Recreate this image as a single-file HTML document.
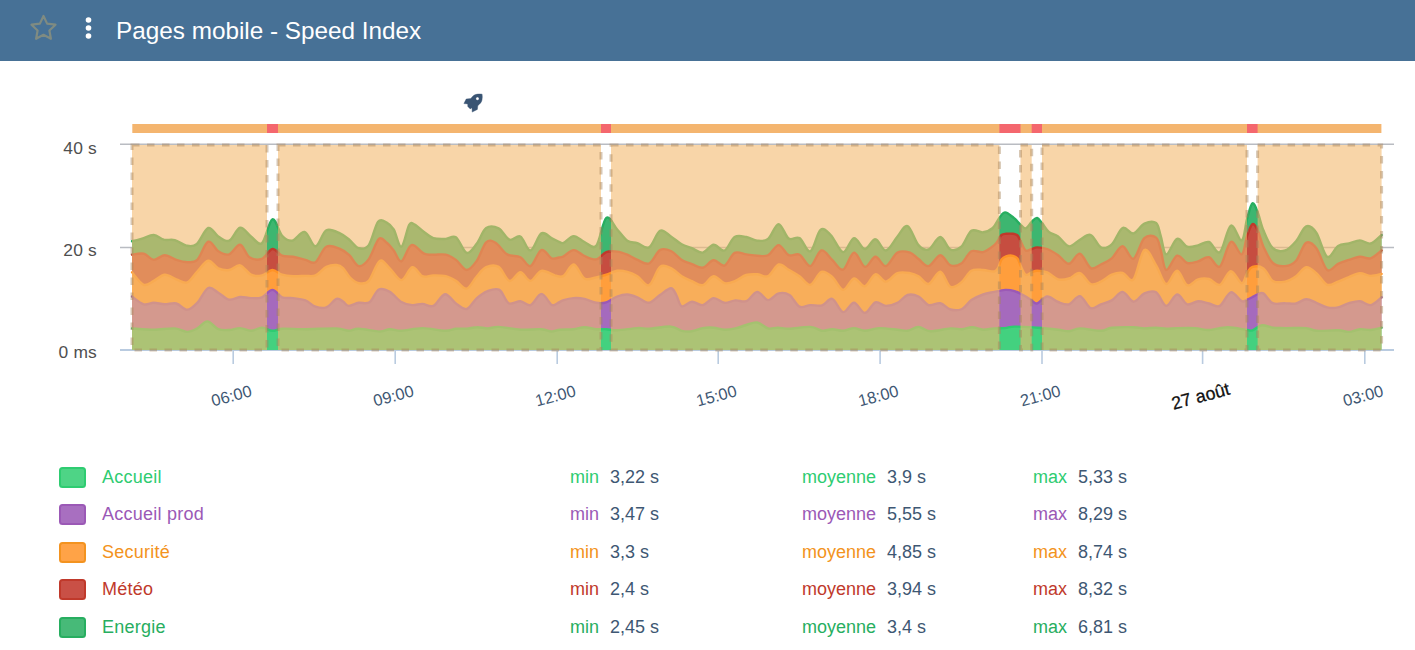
<!DOCTYPE html>
<html><head><meta charset="utf-8"><title>Pages mobile - Speed Index</title>
<style>
html,body{margin:0;padding:0;background:#fff;}
body{width:1415px;height:650px;overflow:hidden;position:relative;font-family:"Liberation Sans",sans-serif;}
#hdr{position:absolute;left:0;top:0;width:1415px;height:61px;background:#477196;}
#hdr .t{position:absolute;left:116px;top:15.5px;font-size:24.3px;line-height:30px;color:#fff;white-space:nowrap;}
svg text{font-family:"Liberation Sans",sans-serif;}
.row{position:absolute;left:0;width:1415px;height:20px;font-size:18px;line-height:20px;white-space:nowrap;}
.row span{position:absolute;top:0;}
.row .sw{left:59px;top:0;width:23px;height:17px;border:2px solid;border-radius:3.5px;}
.row .nm{left:102px;letter-spacing:0.25px;}
.row .v{color:#3e5773;}
</style></head><body>
<div id="hdr">
<svg width="120" height="61" style="position:absolute;left:0;top:0">
<path d="M43.5 16.0L47.1 23.6L55.5 24.7L49.4 30.5L50.9 38.8L43.5 34.8L36.1 38.8L37.6 30.5L31.5 24.7L39.9 23.6Z" fill="none" stroke="#7f8b82" stroke-width="2.2" stroke-linejoin="round"/>
<circle cx="88.500" cy="20" r="2.800" fill="#fff"/><circle cx="88.500" cy="28" r="2.800" fill="#fff"/><circle cx="88.500" cy="36" r="2.800" fill="#fff"/>
</svg>
<div class="t">Pages mobile - Speed Index</div>
</div>
<svg width="1415" height="589" viewBox="0 61 1415 589" style="position:absolute;left:0;top:61px">
<defs><clipPath id="pc"><rect x="130.5" y="140" width="1253" height="210"/></clipPath></defs>
<line x1="120" x2="1394" y1="144.2" y2="144.2" stroke="#b9bcc2" stroke-width="1.6"/>
<line x1="120" x2="1394" y1="247.5" y2="247.5" stroke="#b9bcc2" stroke-width="1.6"/>
<line x1="120" x2="1394" y1="350" y2="350" stroke="#b9cbe0" stroke-width="2"/>
<line x1="233.2" x2="233.2" y1="350" y2="364" stroke="#b9cbe0" stroke-width="1.6"/>
<line x1="395.2" x2="395.2" y1="350" y2="364" stroke="#b9cbe0" stroke-width="1.6"/>
<line x1="557.2" x2="557.2" y1="350" y2="364" stroke="#b9cbe0" stroke-width="1.6"/>
<line x1="718.2" x2="718.2" y1="350" y2="364" stroke="#b9cbe0" stroke-width="1.6"/>
<line x1="880.1" x2="880.1" y1="350" y2="364" stroke="#b9cbe0" stroke-width="1.6"/>
<line x1="1042.0" x2="1042.0" y1="350" y2="364" stroke="#b9cbe0" stroke-width="1.6"/>
<line x1="1202.6" x2="1202.6" y1="350" y2="364" stroke="#b9cbe0" stroke-width="1.6"/>
<line x1="1364.8" x2="1364.8" y1="350" y2="364" stroke="#b9cbe0" stroke-width="1.6"/>
<g clip-path="url(#pc)">
<path d="M132.0 328.4C135.6 328.6 146.7 329.7 153.8 329.7C160.9 329.7 169.2 328.0 174.8 328.4C180.4 328.8 183.4 331.9 187.2 331.9C190.9 331.9 193.9 330.1 197.3 328.4C200.7 326.6 203.9 321.3 207.4 321.4C210.9 321.5 214.7 327.8 218.3 329.2C221.9 330.6 225.6 330.2 229.2 330.0C232.8 329.8 236.5 328.0 240.1 328.1C243.7 328.2 247.4 330.9 251.0 330.8C254.6 330.7 258.3 327.7 261.9 327.7C265.5 327.7 269.0 330.6 272.4 330.8C275.8 331.0 276.6 329.0 282.1 328.7C287.6 328.4 296.3 329.2 305.4 329.2C314.5 329.1 329.3 328.1 336.5 328.4C343.7 328.7 344.9 330.8 348.6 330.8C352.3 330.9 353.5 328.6 358.7 328.7C363.9 328.8 374.5 331.4 379.7 331.5C384.9 331.6 386.2 329.3 389.8 329.2C393.4 329.1 396.0 331.0 401.4 330.8C406.8 330.6 415.1 328.1 422.4 328.1C429.7 328.1 439.4 330.7 445.0 330.8C450.6 330.9 452.3 329.1 455.9 328.7C459.5 328.3 463.2 328.9 466.7 328.7C470.2 328.4 473.4 327.2 476.9 327.2C480.4 327.1 484.1 328.4 487.7 328.4C491.3 328.3 493.2 326.7 498.6 326.9C504.1 327.1 513.3 329.3 520.4 329.7C527.5 330.1 536.2 328.9 541.4 329.2C546.6 329.5 548.4 331.4 551.5 331.5C554.6 331.6 556.3 330.1 560.0 329.7C563.7 329.3 569.6 329.6 573.7 329.2C577.8 328.8 580.8 327.2 584.5 327.2C588.2 327.2 592.6 328.9 596.2 329.2C599.8 329.5 602.8 329.0 606.3 329.2C609.8 329.4 612.0 330.5 617.2 330.3C622.4 330.1 632.1 328.4 637.4 328.1C642.7 327.8 643.5 328.9 649.1 328.7C654.7 328.4 665.5 326.2 670.9 326.6C676.3 327.0 678.2 330.0 681.7 330.8C685.2 331.6 688.4 331.6 691.9 331.2C695.4 330.8 699.1 328.7 702.7 328.1C706.3 327.5 710.0 327.4 713.6 327.7C717.2 328.0 720.9 329.6 724.5 329.7C728.1 329.8 731.8 329.2 735.4 328.4C739.0 327.6 742.7 326.0 746.3 325.0C749.9 324.0 753.6 321.9 757.2 322.5C760.8 323.1 764.6 327.5 768.1 328.4C771.6 329.3 774.5 327.6 778.0 327.7C781.5 327.8 784.0 328.8 789.4 328.7C794.8 328.6 804.9 326.5 810.4 326.9C815.9 327.2 818.5 330.4 822.1 330.8C825.7 331.2 828.7 329.2 832.2 329.2C835.7 329.2 839.5 331.0 843.1 330.8C846.7 330.6 850.4 328.1 854.0 328.1C857.6 328.1 860.8 330.8 864.9 330.8C869.0 330.8 873.5 328.3 878.9 328.1C884.3 327.9 892.7 329.2 897.5 329.7C902.3 330.1 904.1 331.3 907.6 330.8C911.1 330.3 914.7 326.8 918.5 326.9C922.3 327.0 924.9 330.9 930.2 331.2C935.5 331.4 945.1 328.7 950.4 328.4C955.7 328.1 958.5 329.4 962.1 329.2C965.7 329.0 968.7 327.1 972.2 327.2C975.7 327.3 979.5 329.5 983.1 329.7C986.7 329.9 990.3 328.7 994.0 328.4C997.7 328.1 1001.8 328.4 1005.2 328.1C1008.6 327.8 1009.2 326.7 1014.5 326.6C1019.8 326.5 1029.8 327.2 1037.1 327.7C1044.4 328.2 1052.8 329.1 1058.1 329.7C1063.4 330.3 1065.4 331.4 1069.0 331.2C1072.6 331.0 1074.6 328.5 1079.9 328.4C1085.2 328.3 1095.6 330.9 1100.9 330.8C1106.2 330.7 1106.4 328.3 1111.8 327.7C1117.2 327.1 1128.1 327.1 1133.5 327.2C1138.9 327.3 1140.6 328.3 1144.4 328.4C1148.2 328.5 1152.5 327.6 1156.1 327.7C1159.7 327.8 1162.7 328.6 1166.2 328.7C1169.7 328.8 1172.3 328.2 1177.1 328.1C1181.9 328.0 1189.7 327.8 1195.0 328.1C1200.3 328.4 1203.5 330.1 1209.0 330.0C1214.5 329.9 1221.4 327.2 1227.7 327.2C1234.0 327.2 1243.0 329.5 1247.1 330.0C1251.2 330.5 1250.0 331.1 1252.5 330.3C1255.0 329.5 1258.5 325.7 1261.9 325.3C1265.3 324.9 1268.9 327.2 1272.8 327.7C1276.7 328.2 1279.6 328.0 1285.2 328.1C1290.8 328.2 1301.0 327.7 1306.2 328.1C1311.4 328.6 1311.0 330.4 1316.3 330.8C1321.6 331.2 1332.6 330.1 1338.1 330.3C1343.5 330.5 1345.4 332.1 1349.0 331.9C1352.6 331.7 1356.3 329.5 1359.9 329.2C1363.5 328.9 1367.1 330.2 1370.7 330.0C1374.3 329.8 1379.8 328.1 1381.6 327.7L1381.6 350.0 L132.0 350.0 Z" fill="#43d17f" stroke="none"/>
<path d="M132.0 296.5C133.9 297.8 140.1 303.2 143.7 304.3C147.3 305.4 150.3 302.8 153.8 302.8C157.3 302.8 160.9 304.2 164.7 304.3C168.4 304.4 172.6 302.6 176.3 303.5C180.1 304.4 183.7 309.9 187.2 309.8C190.7 309.7 193.8 306.4 197.3 302.8C200.8 299.2 204.7 289.7 208.2 288.0C211.7 286.3 214.8 290.8 218.3 292.7C221.8 294.6 225.6 299.0 229.2 299.7C232.8 300.4 236.5 297.3 240.1 297.0C243.7 296.7 247.4 298.1 251.0 298.1C254.6 298.2 258.3 298.7 261.9 297.3C265.5 295.9 269.0 289.9 272.4 289.9C275.8 289.9 278.7 295.9 282.1 297.3C285.5 298.7 289.1 297.6 293.0 298.1C296.9 298.6 301.6 299.0 305.4 300.4C309.1 301.8 312.0 305.5 315.5 306.7C319.0 307.9 322.9 308.7 326.4 307.4C329.9 306.1 333.7 299.9 336.5 298.9C339.3 297.9 341.0 300.3 343.0 301.5C345.0 302.7 346.0 305.7 348.6 305.9C351.2 306.1 355.2 303.4 358.7 302.8C362.2 302.2 366.1 304.5 369.5 302.3C372.9 300.1 375.5 291.2 378.9 289.5C382.3 287.8 386.1 289.8 389.8 291.9C393.6 294.0 397.6 299.8 401.4 302.0C405.1 304.2 408.8 304.8 412.3 305.1C415.8 305.4 418.9 303.8 422.4 303.9C425.9 304.0 429.5 307.5 433.3 305.9C437.1 304.3 441.2 294.6 445.0 294.2C448.8 293.8 452.3 301.0 455.9 303.5C459.5 306.0 463.2 309.9 466.7 309.0C470.2 308.1 473.4 301.1 476.9 298.1C480.4 295.1 483.9 292.5 487.7 291.1C491.4 289.7 495.9 287.9 499.4 289.9C502.9 291.9 505.2 301.3 508.7 303.2C512.2 305.1 516.8 300.9 520.4 301.2C524.0 301.5 527.0 306.3 530.5 305.1C534.0 303.9 537.9 293.9 541.4 293.9C544.9 293.8 548.9 303.2 551.5 304.8C554.1 306.4 555.0 304.3 557.0 303.5C559.0 302.7 560.8 301.0 563.6 300.1C566.4 299.2 570.2 298.3 573.7 298.1C577.2 297.9 580.8 298.1 584.5 298.9C588.2 299.7 592.6 302.2 596.2 302.8C599.8 303.4 602.8 303.4 606.3 302.3C609.8 301.2 613.7 297.8 617.2 296.5C620.7 295.2 623.9 294.4 627.3 294.5C630.7 294.6 633.8 295.9 637.4 297.3C641.0 298.7 645.3 303.2 649.1 302.8C652.9 302.4 656.4 297.4 660.0 295.0C663.6 292.6 668.2 288.3 670.9 288.3C673.6 288.3 674.5 292.0 676.3 295.0C678.1 298.0 679.1 305.2 681.7 306.3C684.3 307.4 688.4 301.9 691.9 301.7C695.4 301.5 699.1 305.7 702.7 305.1C706.3 304.5 710.0 298.5 713.6 298.1C717.2 297.7 720.9 302.4 724.5 302.8C728.1 303.2 731.8 300.7 735.4 300.4C739.0 300.1 742.7 302.6 746.3 301.2C749.9 299.8 753.6 292.1 757.2 291.9C760.8 291.7 764.5 299.9 768.1 300.1C771.7 300.4 775.1 294.2 778.6 293.4C782.1 292.5 785.9 292.8 789.4 295.0C792.9 297.2 796.0 305.0 799.5 306.7C803.0 308.4 806.6 305.3 810.4 305.1C814.2 304.9 818.5 306.4 822.1 305.4C825.7 304.4 828.7 297.8 832.2 298.9C835.7 300.0 839.5 311.5 843.1 312.1C846.7 312.8 850.4 302.7 854.0 302.8C857.6 302.9 861.3 313.0 864.9 312.9C868.5 312.8 871.9 303.5 875.4 302.3C878.9 301.1 882.2 305.8 885.9 305.9C889.6 306.0 893.9 304.6 897.5 302.8C901.1 301.0 904.1 296.1 907.6 295.0C911.1 293.9 915.0 294.8 918.5 296.5C922.0 298.2 925.0 304.0 928.6 305.1C932.2 306.2 936.7 302.5 940.3 303.2C943.9 303.9 946.8 308.5 950.4 309.5C954.0 310.5 958.6 310.6 962.1 309.0C965.6 307.4 967.9 302.5 971.4 300.1C974.9 297.7 979.3 295.9 983.1 294.5C986.9 293.1 990.6 292.7 994.3 291.9C998.0 291.1 1001.8 290.0 1005.2 289.9C1008.6 289.8 1011.1 290.0 1014.5 291.1C1017.9 292.2 1022.8 294.9 1025.7 296.5C1028.6 298.1 1029.8 299.2 1031.7 300.4C1033.6 301.6 1034.5 304.1 1037.1 303.5C1039.7 302.9 1043.7 296.8 1047.2 296.5C1050.7 296.2 1054.5 300.7 1058.1 302.0C1061.7 303.3 1065.4 305.3 1069.0 304.3C1072.6 303.3 1076.3 295.5 1079.9 296.1C1083.5 296.8 1087.3 306.8 1090.8 308.2C1094.3 309.6 1097.4 305.6 1100.9 304.3C1104.4 303.0 1108.2 302.5 1111.8 300.4C1115.4 298.3 1119.0 291.7 1122.6 291.9C1126.2 292.1 1129.9 301.4 1133.5 301.7C1137.1 301.9 1140.6 295.0 1144.4 293.4C1148.2 291.8 1152.5 290.2 1156.1 292.3C1159.7 294.4 1162.7 305.5 1166.2 305.9C1169.7 306.3 1173.6 294.8 1177.1 294.5C1180.6 294.2 1183.7 303.2 1187.2 304.3C1190.7 305.4 1194.5 301.3 1198.1 301.2C1201.7 301.1 1205.4 302.7 1209.0 303.5C1212.6 304.3 1216.3 307.8 1219.9 305.9C1223.5 304.0 1227.2 293.1 1230.8 292.3C1234.4 291.5 1239.0 300.0 1241.7 301.2C1244.4 302.4 1245.3 300.4 1247.1 299.7C1248.9 299.0 1250.7 297.9 1252.5 297.0C1254.3 296.1 1256.2 294.8 1258.0 294.2C1259.8 293.6 1260.9 291.9 1263.4 293.4C1265.9 294.9 1269.2 301.6 1272.8 303.2C1276.4 304.8 1281.3 303.1 1285.2 303.2C1289.1 303.2 1292.6 304.2 1296.1 303.5C1299.6 302.8 1302.8 299.3 1306.2 299.2C1309.6 299.1 1312.8 301.4 1316.3 302.8C1319.8 304.2 1323.6 306.6 1327.2 307.4C1330.8 308.2 1334.5 308.1 1338.1 307.4C1341.7 306.7 1345.4 304.2 1349.0 303.2C1352.6 302.2 1356.3 300.9 1359.9 301.2C1363.5 301.5 1367.1 305.8 1370.7 305.1C1374.3 304.5 1379.8 298.6 1381.6 297.3L1381.6 327.7C1379.8 328.1 1374.3 329.8 1370.7 330.0C1367.1 330.2 1363.5 328.9 1359.9 329.2C1356.3 329.5 1352.6 331.7 1349.0 331.9C1345.4 332.1 1343.5 330.5 1338.1 330.3C1332.6 330.1 1321.6 331.2 1316.3 330.8C1311.0 330.4 1311.4 328.6 1306.2 328.1C1301.0 327.7 1290.8 328.2 1285.2 328.1C1279.6 328.0 1276.7 328.2 1272.8 327.7C1268.9 327.2 1265.3 324.9 1261.9 325.3C1258.5 325.7 1255.0 329.5 1252.5 330.3C1250.0 331.1 1251.2 330.5 1247.1 330.0C1243.0 329.5 1234.0 327.2 1227.7 327.2C1221.4 327.2 1214.5 329.9 1209.0 330.0C1203.5 330.1 1200.3 328.4 1195.0 328.1C1189.7 327.8 1181.9 328.0 1177.1 328.1C1172.3 328.2 1169.7 328.8 1166.2 328.7C1162.7 328.6 1159.7 327.8 1156.1 327.7C1152.5 327.6 1148.2 328.5 1144.4 328.4C1140.6 328.3 1138.9 327.3 1133.5 327.2C1128.1 327.1 1117.2 327.1 1111.8 327.7C1106.4 328.3 1106.2 330.7 1100.9 330.8C1095.6 330.9 1085.2 328.3 1079.9 328.4C1074.6 328.5 1072.6 331.0 1069.0 331.2C1065.4 331.4 1063.4 330.3 1058.1 329.7C1052.8 329.1 1044.4 328.2 1037.1 327.7C1029.8 327.2 1019.8 326.5 1014.5 326.6C1009.2 326.7 1008.6 327.8 1005.2 328.1C1001.8 328.4 997.7 328.1 994.0 328.4C990.3 328.7 986.7 329.9 983.1 329.7C979.5 329.5 975.7 327.3 972.2 327.2C968.7 327.1 965.7 329.0 962.1 329.2C958.5 329.4 955.7 328.1 950.4 328.4C945.1 328.7 935.5 331.4 930.2 331.2C924.9 330.9 922.3 327.0 918.5 326.9C914.7 326.8 911.1 330.3 907.6 330.8C904.1 331.3 902.3 330.1 897.5 329.7C892.7 329.2 884.3 327.9 878.9 328.1C873.5 328.3 869.0 330.8 864.9 330.8C860.8 330.8 857.6 328.1 854.0 328.1C850.4 328.1 846.7 330.6 843.1 330.8C839.5 331.0 835.7 329.2 832.2 329.2C828.7 329.2 825.7 331.2 822.1 330.8C818.5 330.4 815.9 327.2 810.4 326.9C804.9 326.5 794.8 328.6 789.4 328.7C784.0 328.8 781.5 327.8 778.0 327.7C774.5 327.6 771.6 329.3 768.1 328.4C764.6 327.5 760.8 323.1 757.2 322.5C753.6 321.9 749.9 324.0 746.3 325.0C742.7 326.0 739.0 327.6 735.4 328.4C731.8 329.2 728.1 329.8 724.5 329.7C720.9 329.6 717.2 328.0 713.6 327.7C710.0 327.4 706.3 327.5 702.7 328.1C699.1 328.7 695.4 330.8 691.9 331.2C688.4 331.6 685.2 331.6 681.7 330.8C678.2 330.0 676.3 327.0 670.9 326.6C665.5 326.2 654.7 328.4 649.1 328.7C643.5 328.9 642.7 327.8 637.4 328.1C632.1 328.4 622.4 330.1 617.2 330.3C612.0 330.5 609.8 329.4 606.3 329.2C602.8 329.0 599.8 329.5 596.2 329.2C592.6 328.9 588.2 327.2 584.5 327.2C580.8 327.2 577.8 328.8 573.7 329.2C569.6 329.6 563.7 329.3 560.0 329.7C556.3 330.1 554.6 331.6 551.5 331.5C548.4 331.4 546.6 329.5 541.4 329.2C536.2 328.9 527.5 330.1 520.4 329.7C513.3 329.3 504.1 327.1 498.6 326.9C493.2 326.7 491.3 328.3 487.7 328.4C484.1 328.4 480.4 327.1 476.9 327.2C473.4 327.2 470.2 328.4 466.7 328.7C463.2 328.9 459.5 328.3 455.9 328.7C452.3 329.1 450.6 330.9 445.0 330.8C439.4 330.7 429.7 328.1 422.4 328.1C415.1 328.1 406.8 330.6 401.4 330.8C396.0 331.0 393.4 329.1 389.8 329.2C386.2 329.3 384.9 331.6 379.7 331.5C374.5 331.4 363.9 328.8 358.7 328.7C353.5 328.6 352.3 330.9 348.6 330.8C344.9 330.8 343.7 328.7 336.5 328.4C329.3 328.1 314.5 329.1 305.4 329.2C296.3 329.2 287.6 328.4 282.1 328.7C276.6 329.0 275.8 331.0 272.4 330.8C269.0 330.6 265.5 327.7 261.9 327.7C258.3 327.7 254.6 330.7 251.0 330.8C247.4 330.9 243.7 328.2 240.1 328.1C236.5 328.0 232.8 329.8 229.2 330.0C225.6 330.2 221.9 330.6 218.3 329.2C214.7 327.8 210.9 321.5 207.4 321.4C203.9 321.3 200.7 326.6 197.3 328.4C193.9 330.1 190.9 331.9 187.2 331.9C183.4 331.9 180.4 328.8 174.8 328.4C169.2 328.0 160.9 329.7 153.8 329.7C146.7 329.7 135.6 328.6 132.0 328.4Z" fill="#a56abd" stroke="none"/>
<path d="M132.0 272.3C133.9 274.4 140.1 283.4 143.7 284.8C147.3 286.2 150.3 282.6 153.8 280.9C157.3 279.2 160.9 275.0 164.7 274.7C168.4 274.4 172.6 278.0 176.3 279.3C180.1 280.6 183.7 283.7 187.2 282.4C190.7 281.1 193.8 275.1 197.3 271.5C200.8 267.9 204.7 261.2 208.2 260.7C211.7 260.2 214.8 266.8 218.3 268.4C221.8 269.9 225.6 270.5 229.2 270.0C232.8 269.5 236.5 264.5 240.1 265.3C243.7 266.1 247.4 273.0 251.0 274.7C254.6 276.4 258.3 276.2 261.9 275.4C265.5 274.6 269.0 270.1 272.4 270.0C275.8 269.9 278.7 273.7 282.1 274.7C285.5 275.7 289.1 276.0 293.0 276.2C296.9 276.4 301.6 276.0 305.4 275.9C309.1 275.8 312.0 276.9 315.5 275.4C319.0 273.9 322.9 268.6 326.4 266.9C329.9 265.2 333.7 264.8 336.5 265.0C339.3 265.2 340.8 265.9 343.0 268.0C345.2 270.1 347.4 275.0 350.0 277.5C352.6 280.0 355.6 282.6 358.7 283.2C361.8 283.8 365.3 284.6 368.8 280.9C372.3 277.2 376.2 263.1 379.7 261.0C383.2 258.9 386.2 265.2 389.8 268.4C393.4 271.6 397.6 280.3 401.4 280.1C405.1 279.9 408.8 267.9 412.3 267.2C415.8 266.5 418.9 274.8 422.4 276.2C425.9 277.6 429.4 275.4 433.3 275.4C437.2 275.4 442.0 275.3 445.8 276.2C449.6 277.1 452.4 278.8 455.9 280.9C459.4 283.0 463.2 289.4 466.7 288.6C470.2 287.8 473.6 279.8 476.9 276.2C480.1 272.6 482.6 268.8 486.2 267.2C489.8 265.6 494.7 264.6 498.6 266.9C502.5 269.2 505.9 280.0 509.5 280.9C513.1 281.8 516.9 272.3 520.4 272.3C523.9 272.3 527.0 281.1 530.5 280.9C534.0 280.6 537.3 271.7 541.4 270.8C545.5 269.9 551.3 274.5 555.0 275.4C558.7 276.2 560.5 277.7 563.6 275.9C566.7 274.1 570.2 264.1 573.7 264.5C577.2 264.9 580.8 276.4 584.5 278.5C588.2 280.6 592.6 278.0 596.2 277.4C599.8 276.8 602.8 275.8 606.3 274.7C609.8 273.6 613.7 271.3 617.2 270.8C620.7 270.3 623.9 270.9 627.3 271.8C630.7 272.7 633.8 274.0 637.4 276.2C641.0 278.4 645.3 286.8 649.1 285.2C652.9 283.6 656.4 269.8 660.0 266.9C663.6 264.0 667.3 266.6 670.9 268.1C674.5 269.7 678.2 274.0 681.7 276.2C685.2 278.4 688.4 279.7 691.9 281.2C695.4 282.7 699.1 286.0 702.7 285.2C706.3 284.4 710.0 276.5 713.6 276.2C717.2 275.9 720.9 282.4 724.5 283.2C728.1 284.0 731.8 282.3 735.4 280.9C739.0 279.5 742.7 276.1 746.3 275.0C749.9 273.9 753.6 274.1 757.2 274.3C760.8 274.5 764.5 277.8 768.1 276.2C771.7 274.6 775.2 265.6 778.6 264.5C782.0 263.4 785.2 267.8 788.7 269.7C792.2 271.6 795.9 273.7 799.5 276.2C803.1 278.7 806.8 285.5 810.4 284.8C814.0 284.1 817.7 273.1 821.3 271.8C824.9 270.5 828.6 274.0 832.2 277.0C835.8 280.0 839.5 289.6 843.1 289.9C846.7 290.1 850.4 279.1 854.0 278.5C857.6 277.9 861.3 287.0 864.9 286.3C868.5 285.6 871.9 275.1 875.4 274.3C878.9 273.5 882.2 281.8 885.9 281.6C889.6 281.4 893.5 274.5 897.5 273.1C901.5 271.7 906.5 272.6 910.0 273.1C913.5 273.6 915.4 274.4 918.5 276.2C921.6 278.0 925.0 284.7 928.6 284.0C932.2 283.3 936.7 271.3 940.3 271.8C943.9 272.3 946.9 285.0 950.4 286.8C953.9 288.6 957.8 285.1 961.3 282.4C964.8 279.7 967.8 272.9 971.4 270.8C975.0 268.7 979.3 269.9 983.1 270.0C986.9 270.1 991.7 272.0 994.3 271.5C996.9 271.0 997.3 269.0 998.5 267.0C999.7 265.0 1000.2 261.3 1001.5 259.5C1002.8 257.7 1004.1 256.9 1006.0 256.3C1007.9 255.7 1011.1 255.4 1013.0 255.8C1014.9 256.2 1016.2 256.9 1017.5 258.5C1018.8 260.1 1019.1 262.8 1020.5 265.5C1021.9 268.2 1023.8 273.6 1025.7 274.7C1027.6 275.8 1029.8 272.9 1031.7 272.3C1033.6 271.7 1034.5 270.8 1037.1 270.8C1039.7 270.8 1043.7 270.9 1047.2 272.3C1050.7 273.7 1054.5 278.3 1058.1 279.3C1061.7 280.3 1065.4 279.5 1069.0 278.5C1072.6 277.5 1076.3 272.2 1079.9 273.1C1083.5 274.0 1087.3 282.6 1090.8 284.0C1094.3 285.4 1097.4 283.2 1100.9 281.6C1104.4 280.1 1108.2 276.2 1111.8 274.7C1115.4 273.2 1119.0 272.0 1122.6 272.8C1126.2 273.6 1129.9 283.1 1133.5 279.3C1137.1 275.5 1140.6 252.4 1144.4 250.1C1148.2 247.8 1152.5 259.7 1156.1 265.3C1159.7 270.9 1162.7 283.1 1166.2 284.0C1169.7 284.9 1173.6 270.6 1177.1 270.8C1180.6 271.0 1183.7 283.8 1187.2 285.2C1190.7 286.6 1194.5 280.3 1198.1 279.3C1201.7 278.3 1205.4 278.1 1209.0 279.0C1212.6 279.9 1216.3 286.1 1219.9 284.8C1223.5 283.5 1227.2 271.5 1230.8 271.2C1234.4 270.9 1239.0 282.9 1241.7 283.2C1244.4 283.5 1245.3 275.8 1247.1 273.1C1248.9 270.4 1249.8 267.7 1252.5 266.9C1255.2 266.1 1260.0 266.1 1263.4 268.4C1266.8 270.7 1269.2 278.7 1272.8 280.9C1276.4 283.1 1281.3 282.4 1285.2 281.6C1289.1 280.8 1292.6 278.6 1296.1 276.2C1299.6 273.8 1302.8 267.7 1306.2 267.2C1309.6 266.7 1312.8 270.2 1316.3 273.1C1319.8 276.0 1323.6 283.4 1327.2 284.8C1330.8 286.2 1334.5 282.9 1338.1 281.6C1341.7 280.3 1345.4 278.4 1349.0 277.0C1352.6 275.6 1356.3 273.3 1359.9 273.1C1363.5 272.9 1367.1 275.8 1370.7 275.9C1374.3 276.0 1379.8 274.2 1381.6 273.9L1381.6 297.3C1379.8 298.6 1374.3 304.5 1370.7 305.1C1367.1 305.8 1363.5 301.5 1359.9 301.2C1356.3 300.9 1352.6 302.2 1349.0 303.2C1345.4 304.2 1341.7 306.7 1338.1 307.4C1334.5 308.1 1330.8 308.2 1327.2 307.4C1323.6 306.6 1319.8 304.2 1316.3 302.8C1312.8 301.4 1309.6 299.1 1306.2 299.2C1302.8 299.3 1299.6 302.8 1296.1 303.5C1292.6 304.2 1289.1 303.2 1285.2 303.2C1281.3 303.1 1276.4 304.8 1272.8 303.2C1269.2 301.6 1265.9 294.9 1263.4 293.4C1260.9 291.9 1259.8 293.6 1258.0 294.2C1256.2 294.8 1254.3 296.1 1252.5 297.0C1250.7 297.9 1248.9 299.0 1247.1 299.7C1245.3 300.4 1244.4 302.4 1241.7 301.2C1239.0 300.0 1234.4 291.5 1230.8 292.3C1227.2 293.1 1223.5 304.0 1219.9 305.9C1216.3 307.8 1212.6 304.3 1209.0 303.5C1205.4 302.7 1201.7 301.1 1198.1 301.2C1194.5 301.3 1190.7 305.4 1187.2 304.3C1183.7 303.2 1180.6 294.2 1177.1 294.5C1173.6 294.8 1169.7 306.3 1166.2 305.9C1162.7 305.5 1159.7 294.4 1156.1 292.3C1152.5 290.2 1148.2 291.8 1144.4 293.4C1140.6 295.0 1137.1 301.9 1133.5 301.7C1129.9 301.4 1126.2 292.1 1122.6 291.9C1119.0 291.7 1115.4 298.3 1111.8 300.4C1108.2 302.5 1104.4 303.0 1100.9 304.3C1097.4 305.6 1094.3 309.6 1090.8 308.2C1087.3 306.8 1083.5 296.8 1079.9 296.1C1076.3 295.5 1072.6 303.3 1069.0 304.3C1065.4 305.3 1061.7 303.3 1058.1 302.0C1054.5 300.7 1050.7 296.2 1047.2 296.5C1043.7 296.8 1039.7 302.9 1037.1 303.5C1034.5 304.1 1033.6 301.6 1031.7 300.4C1029.8 299.2 1028.6 298.1 1025.7 296.5C1022.8 294.9 1017.9 292.2 1014.5 291.1C1011.1 290.0 1008.6 289.8 1005.2 289.9C1001.8 290.0 998.0 291.1 994.3 291.9C990.6 292.7 986.9 293.1 983.1 294.5C979.3 295.9 974.9 297.7 971.4 300.1C967.9 302.5 965.6 307.4 962.1 309.0C958.6 310.6 954.0 310.5 950.4 309.5C946.8 308.5 943.9 303.9 940.3 303.2C936.7 302.5 932.2 306.2 928.6 305.1C925.0 304.0 922.0 298.2 918.5 296.5C915.0 294.8 911.1 293.9 907.6 295.0C904.1 296.1 901.1 301.0 897.5 302.8C893.9 304.6 889.6 306.0 885.9 305.9C882.2 305.8 878.9 301.1 875.4 302.3C871.9 303.5 868.5 312.8 864.9 312.9C861.3 313.0 857.6 302.9 854.0 302.8C850.4 302.7 846.7 312.8 843.1 312.1C839.5 311.5 835.7 300.0 832.2 298.9C828.7 297.8 825.7 304.4 822.1 305.4C818.5 306.4 814.2 304.9 810.4 305.1C806.6 305.3 803.0 308.4 799.5 306.7C796.0 305.0 792.9 297.2 789.4 295.0C785.9 292.8 782.1 292.5 778.6 293.4C775.1 294.2 771.7 300.4 768.1 300.1C764.5 299.9 760.8 291.7 757.2 291.9C753.6 292.1 749.9 299.8 746.3 301.2C742.7 302.6 739.0 300.1 735.4 300.4C731.8 300.7 728.1 303.2 724.5 302.8C720.9 302.4 717.2 297.7 713.6 298.1C710.0 298.5 706.3 304.5 702.7 305.1C699.1 305.7 695.4 301.5 691.9 301.7C688.4 301.9 684.3 307.4 681.7 306.3C679.1 305.2 678.1 298.0 676.3 295.0C674.5 292.0 673.6 288.3 670.9 288.3C668.2 288.3 663.6 292.6 660.0 295.0C656.4 297.4 652.9 302.4 649.1 302.8C645.3 303.2 641.0 298.7 637.4 297.3C633.8 295.9 630.7 294.6 627.3 294.5C623.9 294.4 620.7 295.2 617.2 296.5C613.7 297.8 609.8 301.2 606.3 302.3C602.8 303.4 599.8 303.4 596.2 302.8C592.6 302.2 588.2 299.7 584.5 298.9C580.8 298.1 577.2 297.9 573.7 298.1C570.2 298.3 566.4 299.2 563.6 300.1C560.8 301.0 559.0 302.7 557.0 303.5C555.0 304.3 554.1 306.4 551.5 304.8C548.9 303.2 544.9 293.8 541.4 293.9C537.9 293.9 534.0 303.9 530.5 305.1C527.0 306.3 524.0 301.5 520.4 301.2C516.8 300.9 512.2 305.1 508.7 303.2C505.2 301.3 502.9 291.9 499.4 289.9C495.9 287.9 491.4 289.7 487.7 291.1C483.9 292.5 480.4 295.1 476.9 298.1C473.4 301.1 470.2 308.1 466.7 309.0C463.2 309.9 459.5 306.0 455.9 303.5C452.3 301.0 448.8 293.8 445.0 294.2C441.2 294.6 437.1 304.3 433.3 305.9C429.5 307.5 425.9 304.0 422.4 303.9C418.9 303.8 415.8 305.4 412.3 305.1C408.8 304.8 405.1 304.2 401.4 302.0C397.6 299.8 393.6 294.0 389.8 291.9C386.1 289.8 382.3 287.8 378.9 289.5C375.5 291.2 372.9 300.1 369.5 302.3C366.1 304.5 362.2 302.2 358.7 302.8C355.2 303.4 351.2 306.1 348.6 305.9C346.0 305.7 345.0 302.7 343.0 301.5C341.0 300.3 339.3 297.9 336.5 298.9C333.7 299.9 329.9 306.1 326.4 307.4C322.9 308.7 319.0 307.9 315.5 306.7C312.0 305.5 309.1 301.8 305.4 300.4C301.6 299.0 296.9 298.6 293.0 298.1C289.1 297.6 285.5 298.7 282.1 297.3C278.7 295.9 275.8 289.9 272.4 289.9C269.0 289.9 265.5 295.9 261.9 297.3C258.3 298.7 254.6 298.2 251.0 298.1C247.4 298.1 243.7 296.7 240.1 297.0C236.5 297.3 232.8 300.4 229.2 299.7C225.6 299.0 221.8 294.6 218.3 292.7C214.8 290.8 211.7 286.3 208.2 288.0C204.7 289.7 200.8 299.2 197.3 302.8C193.8 306.4 190.7 309.7 187.2 309.8C183.7 309.9 180.1 304.4 176.3 303.5C172.6 302.6 168.4 304.4 164.7 304.3C160.9 304.2 157.3 302.8 153.8 302.8C150.3 302.8 147.3 305.4 143.7 304.3C140.1 303.2 133.9 297.8 132.0 296.5Z" fill="#ff9e3c" stroke="none"/>
<path d="M132.0 254.7C133.9 254.5 140.1 252.8 143.7 253.7C147.3 254.6 150.3 259.6 153.8 259.9C157.3 260.1 160.9 255.2 164.7 255.2C168.4 255.2 172.6 258.7 176.3 259.9C180.1 261.1 183.7 262.2 187.2 262.2C190.7 262.2 193.8 263.3 197.3 259.9C200.8 256.5 204.7 243.1 208.2 241.7C211.7 240.3 214.8 249.2 218.3 251.3C221.8 253.4 225.6 255.5 229.2 254.4C232.8 253.3 236.7 244.3 240.1 244.8C243.5 245.3 245.8 254.9 249.4 257.2C253.0 259.5 258.1 260.2 261.9 258.8C265.7 257.4 269.0 249.5 272.4 249.0C275.8 248.5 278.7 254.4 282.1 255.7C285.5 257.0 289.1 256.1 293.0 256.8C296.9 257.5 301.6 259.0 305.4 259.9C309.1 260.8 312.0 264.4 315.5 262.2C319.0 260.0 322.3 248.9 326.4 246.7C330.5 244.5 336.2 247.6 340.0 249.0C343.8 250.4 346.2 252.3 349.3 255.2C352.4 258.1 355.4 265.5 358.7 266.1C361.9 266.8 365.4 263.6 368.8 259.1C372.2 254.6 375.9 241.6 378.9 238.9C381.9 236.2 384.2 240.9 386.7 242.8C389.2 244.7 391.2 247.4 393.7 250.5C396.1 253.6 398.4 262.3 401.4 261.4C404.4 260.5 407.7 246.4 411.5 245.1C415.3 243.8 420.4 252.1 424.0 253.7C427.6 255.3 429.7 254.5 433.3 254.7C436.9 254.9 442.0 253.8 445.8 254.7C449.6 255.6 452.4 257.3 455.9 259.9C459.4 262.4 463.2 269.9 466.7 270.0C470.2 270.1 473.6 265.3 476.9 260.7C480.1 256.1 483.1 245.3 486.2 242.3C489.3 239.3 492.0 240.8 495.5 242.8C499.0 244.8 503.1 252.0 507.2 254.4C511.3 256.8 516.5 255.2 520.4 257.2C524.3 259.1 527.0 267.3 530.5 266.1C534.0 264.9 537.9 251.4 541.4 250.1C544.9 248.8 548.6 257.1 551.5 258.3C554.4 259.5 557.0 257.8 559.0 257.5C561.0 257.2 561.1 257.5 563.6 256.3C566.1 255.1 570.2 250.2 573.7 250.1C577.2 250.0 580.8 254.4 584.5 256.0C588.2 257.6 592.6 260.0 596.2 259.4C599.8 258.8 602.8 253.4 606.3 252.1C609.8 250.8 613.7 251.2 617.2 251.6C620.7 252.0 623.9 253.3 627.3 254.7C630.7 256.1 633.8 258.4 637.4 259.9C641.0 261.4 645.3 265.1 649.1 263.5C652.9 261.9 656.4 252.2 660.0 250.1C663.6 248.0 667.3 249.4 670.9 251.0C674.5 252.6 678.2 257.7 681.7 259.9C685.2 262.1 688.4 262.8 691.9 264.1C695.4 265.4 699.1 268.3 702.7 267.7C706.3 267.1 710.0 260.6 713.6 260.3C717.2 260.0 721.0 266.8 724.5 265.6C728.0 264.4 731.0 254.8 734.6 252.9C738.2 251.0 742.5 253.9 746.3 254.4C750.1 254.9 753.6 255.6 757.2 255.7C760.8 255.8 764.5 257.0 768.1 255.2C771.7 253.4 775.2 245.1 778.6 245.1C782.0 245.1 785.2 253.6 788.7 255.2C792.2 256.8 795.9 252.9 799.5 254.7C803.1 256.5 806.8 266.8 810.4 266.1C814.0 265.4 817.7 251.5 821.3 250.5C824.9 249.5 828.6 256.7 832.2 259.9C835.8 263.1 839.5 270.9 843.1 269.7C846.7 268.5 850.4 253.1 854.0 252.6C857.6 252.1 861.3 266.2 864.9 266.9C868.5 267.6 871.9 256.9 875.4 256.8C878.9 256.7 882.2 266.8 885.9 266.1C889.6 265.4 893.5 254.8 897.5 252.6C901.5 250.3 906.5 251.5 910.0 252.6C913.5 253.7 915.4 256.9 918.5 259.1C921.6 261.4 925.0 266.8 928.6 266.1C932.2 265.5 936.7 255.3 940.3 255.2C943.9 255.1 946.9 263.9 950.4 265.3C953.9 266.7 957.8 265.8 961.3 263.5C964.8 261.2 967.8 253.2 971.4 251.3C975.0 249.4 979.3 253.1 983.1 252.1C986.9 251.1 991.7 247.1 994.3 245.1C996.9 243.1 997.3 241.7 998.5 240.0C999.7 238.3 1000.2 236.0 1001.5 235.0C1002.8 234.0 1004.1 234.0 1006.0 233.8C1007.9 233.6 1011.1 233.5 1013.0 233.8C1014.9 234.1 1016.2 234.3 1017.5 235.5C1018.8 236.7 1019.1 238.5 1020.5 241.0C1021.9 243.5 1023.8 249.2 1025.7 250.5C1027.6 251.8 1029.8 249.5 1031.7 249.0C1033.6 248.5 1034.5 247.4 1037.1 247.4C1039.7 247.4 1043.7 247.7 1047.2 249.0C1050.7 250.3 1054.5 252.7 1058.1 255.2C1061.7 257.7 1065.4 264.1 1069.0 263.8C1072.6 263.6 1076.3 253.0 1079.9 253.7C1083.5 254.4 1087.3 266.3 1090.8 268.1C1094.3 269.9 1097.4 266.1 1100.9 264.5C1104.4 262.9 1108.2 261.3 1111.8 258.3C1115.4 255.3 1119.0 246.2 1122.6 246.3C1126.2 246.4 1129.9 260.2 1133.5 258.8C1137.1 257.4 1140.6 241.6 1144.4 238.1C1148.2 234.6 1153.4 235.6 1156.1 237.6C1158.8 239.6 1159.0 244.4 1160.7 249.8C1162.4 255.2 1163.5 269.0 1166.2 270.0C1168.9 271.0 1173.6 256.9 1177.1 255.7C1180.6 254.5 1183.7 262.1 1187.2 263.0C1190.7 263.9 1194.5 262.4 1198.1 261.4C1201.7 260.4 1205.4 256.3 1209.0 257.2C1212.6 258.1 1216.3 269.1 1219.9 266.6C1223.5 264.1 1227.2 244.0 1230.8 242.0C1234.4 240.0 1239.0 255.4 1241.7 254.4C1244.4 253.4 1245.3 240.9 1247.1 235.8C1248.9 230.8 1250.7 224.9 1252.5 224.1C1254.3 223.3 1256.2 227.3 1258.0 231.1C1259.8 234.9 1260.9 241.4 1263.4 246.7C1265.9 252.0 1269.2 259.8 1272.8 263.0C1276.4 266.2 1281.3 266.5 1285.2 266.1C1289.1 265.7 1292.6 264.6 1296.1 260.7C1299.6 256.8 1302.8 244.9 1306.2 242.8C1309.6 240.7 1312.8 243.7 1316.3 248.2C1319.8 252.7 1323.6 267.4 1327.2 270.0C1330.8 272.6 1334.5 265.5 1338.1 263.8C1341.7 262.1 1345.4 261.1 1349.0 259.9C1352.6 258.7 1356.3 257.1 1359.9 256.8C1363.5 256.5 1367.1 259.4 1370.7 258.3C1374.3 257.2 1379.8 251.8 1381.6 250.5L1381.6 273.9C1379.8 274.2 1374.3 276.0 1370.7 275.9C1367.1 275.8 1363.5 272.9 1359.9 273.1C1356.3 273.3 1352.6 275.6 1349.0 277.0C1345.4 278.4 1341.7 280.3 1338.1 281.6C1334.5 282.9 1330.8 286.2 1327.2 284.8C1323.6 283.4 1319.8 276.0 1316.3 273.1C1312.8 270.2 1309.6 266.7 1306.2 267.2C1302.8 267.7 1299.6 273.8 1296.1 276.2C1292.6 278.6 1289.1 280.8 1285.2 281.6C1281.3 282.4 1276.4 283.1 1272.8 280.9C1269.2 278.7 1266.8 270.7 1263.4 268.4C1260.0 266.1 1255.2 266.1 1252.5 266.9C1249.8 267.7 1248.9 270.4 1247.1 273.1C1245.3 275.8 1244.4 283.5 1241.7 283.2C1239.0 282.9 1234.4 270.9 1230.8 271.2C1227.2 271.5 1223.5 283.5 1219.9 284.8C1216.3 286.1 1212.6 279.9 1209.0 279.0C1205.4 278.1 1201.7 278.3 1198.1 279.3C1194.5 280.3 1190.7 286.6 1187.2 285.2C1183.7 283.8 1180.6 271.0 1177.1 270.8C1173.6 270.6 1169.7 284.9 1166.2 284.0C1162.7 283.1 1159.7 270.9 1156.1 265.3C1152.5 259.7 1148.2 247.8 1144.4 250.1C1140.6 252.4 1137.1 275.5 1133.5 279.3C1129.9 283.1 1126.2 273.6 1122.6 272.8C1119.0 272.0 1115.4 273.2 1111.8 274.7C1108.2 276.2 1104.4 280.1 1100.9 281.6C1097.4 283.2 1094.3 285.4 1090.8 284.0C1087.3 282.6 1083.5 274.0 1079.9 273.1C1076.3 272.2 1072.6 277.5 1069.0 278.5C1065.4 279.5 1061.7 280.3 1058.1 279.3C1054.5 278.3 1050.7 273.7 1047.2 272.3C1043.7 270.9 1039.7 270.8 1037.1 270.8C1034.5 270.8 1033.6 271.7 1031.7 272.3C1029.8 272.9 1027.6 275.8 1025.7 274.7C1023.8 273.6 1021.9 268.2 1020.5 265.5C1019.1 262.8 1018.8 260.1 1017.5 258.5C1016.2 256.9 1014.9 256.2 1013.0 255.8C1011.1 255.4 1007.9 255.7 1006.0 256.3C1004.1 256.9 1002.8 257.7 1001.5 259.5C1000.2 261.3 999.7 265.0 998.5 267.0C997.3 269.0 996.9 271.0 994.3 271.5C991.7 272.0 986.9 270.1 983.1 270.0C979.3 269.9 975.0 268.7 971.4 270.8C967.8 272.9 964.8 279.7 961.3 282.4C957.8 285.1 953.9 288.6 950.4 286.8C946.9 285.0 943.9 272.3 940.3 271.8C936.7 271.3 932.2 283.3 928.6 284.0C925.0 284.7 921.6 278.0 918.5 276.2C915.4 274.4 913.5 273.6 910.0 273.1C906.5 272.6 901.5 271.7 897.5 273.1C893.5 274.5 889.6 281.4 885.9 281.6C882.2 281.8 878.9 273.5 875.4 274.3C871.9 275.1 868.5 285.6 864.9 286.3C861.3 287.0 857.6 277.9 854.0 278.5C850.4 279.1 846.7 290.1 843.1 289.9C839.5 289.6 835.8 280.0 832.2 277.0C828.6 274.0 824.9 270.5 821.3 271.8C817.7 273.1 814.0 284.1 810.4 284.8C806.8 285.5 803.1 278.7 799.5 276.2C795.9 273.7 792.2 271.6 788.7 269.7C785.2 267.8 782.0 263.4 778.6 264.5C775.2 265.6 771.7 274.6 768.1 276.2C764.5 277.8 760.8 274.5 757.2 274.3C753.6 274.1 749.9 273.9 746.3 275.0C742.7 276.1 739.0 279.5 735.4 280.9C731.8 282.3 728.1 284.0 724.5 283.2C720.9 282.4 717.2 275.9 713.6 276.2C710.0 276.5 706.3 284.4 702.7 285.2C699.1 286.0 695.4 282.7 691.9 281.2C688.4 279.7 685.2 278.4 681.7 276.2C678.2 274.0 674.5 269.7 670.9 268.1C667.3 266.6 663.6 264.0 660.0 266.9C656.4 269.8 652.9 283.6 649.1 285.2C645.3 286.8 641.0 278.4 637.4 276.2C633.8 274.0 630.7 272.7 627.3 271.8C623.9 270.9 620.7 270.3 617.2 270.8C613.7 271.3 609.8 273.6 606.3 274.7C602.8 275.8 599.8 276.8 596.2 277.4C592.6 278.0 588.2 280.6 584.5 278.5C580.8 276.4 577.2 264.9 573.7 264.5C570.2 264.1 566.7 274.1 563.6 275.9C560.5 277.7 558.7 276.2 555.0 275.4C551.3 274.5 545.5 269.9 541.4 270.8C537.3 271.7 534.0 280.6 530.5 280.9C527.0 281.1 523.9 272.3 520.4 272.3C516.9 272.3 513.1 281.8 509.5 280.9C505.9 280.0 502.5 269.2 498.6 266.9C494.7 264.6 489.8 265.6 486.2 267.2C482.6 268.8 480.1 272.6 476.9 276.2C473.6 279.8 470.2 287.8 466.7 288.6C463.2 289.4 459.4 283.0 455.9 280.9C452.4 278.8 449.6 277.1 445.8 276.2C442.0 275.3 437.2 275.4 433.3 275.4C429.4 275.4 425.9 277.6 422.4 276.2C418.9 274.8 415.8 266.5 412.3 267.2C408.8 267.9 405.1 279.9 401.4 280.1C397.6 280.3 393.4 271.6 389.8 268.4C386.2 265.2 383.2 258.9 379.7 261.0C376.2 263.1 372.3 277.2 368.8 280.9C365.3 284.6 361.8 283.8 358.7 283.2C355.6 282.6 352.6 280.0 350.0 277.5C347.4 275.0 345.2 270.1 343.0 268.0C340.8 265.9 339.3 265.2 336.5 265.0C333.7 264.8 329.9 265.2 326.4 266.9C322.9 268.6 319.0 273.9 315.5 275.4C312.0 276.9 309.1 275.8 305.4 275.9C301.6 276.0 296.9 276.4 293.0 276.2C289.1 276.0 285.5 275.7 282.1 274.7C278.7 273.7 275.8 269.9 272.4 270.0C269.0 270.1 265.5 274.6 261.9 275.4C258.3 276.2 254.6 276.4 251.0 274.7C247.4 273.0 243.7 266.1 240.1 265.3C236.5 264.5 232.8 269.5 229.2 270.0C225.6 270.5 221.8 269.9 218.3 268.4C214.8 266.8 211.7 260.2 208.2 260.7C204.7 261.2 200.8 267.9 197.3 271.5C193.8 275.1 190.7 281.1 187.2 282.4C183.7 283.7 180.1 280.6 176.3 279.3C172.6 278.0 168.4 274.4 164.7 274.7C160.9 275.0 157.3 279.2 153.8 280.9C150.3 282.6 147.3 286.2 143.7 284.8C140.1 283.4 133.9 274.4 132.0 272.3Z" fill="#c64d40" stroke="none"/>
<path d="M132.0 241.2C133.7 240.8 138.5 239.6 142.1 238.6C145.7 237.6 150.2 234.8 153.8 235.0C157.4 235.2 160.4 238.8 163.9 239.7C167.4 240.5 171.1 239.1 174.8 240.1C178.6 241.1 182.8 244.9 186.4 245.6C190.0 246.3 192.9 247.2 196.5 244.3C200.1 241.4 204.6 229.3 208.2 228.0C211.8 226.7 214.8 234.4 218.3 236.5C221.8 238.6 225.6 242.2 229.2 240.7C232.8 239.2 236.5 228.4 240.1 227.7C243.7 227.0 247.4 233.9 251.0 236.5C254.6 239.1 258.3 246.0 261.9 243.2C265.5 240.3 269.0 220.6 272.4 219.4C275.8 218.2 278.8 232.2 282.1 235.8C285.4 239.4 288.4 241.3 292.2 240.7C295.9 240.0 300.7 231.0 304.6 231.9C308.5 232.8 311.9 246.6 315.5 246.3C319.1 246.0 322.3 232.5 326.4 230.3C330.5 228.2 336.2 231.8 340.0 233.4C343.8 235.0 346.2 237.2 349.3 239.7C352.4 242.2 355.4 247.3 358.7 248.2C361.9 249.1 365.6 249.5 368.8 245.1C372.0 240.7 375.1 225.6 378.1 221.8C381.1 218.1 384.1 221.3 386.7 222.6C389.3 223.9 391.2 225.5 393.7 229.5C396.1 233.5 398.8 247.5 401.4 246.7C404.0 245.9 407.0 228.6 409.2 224.9C411.4 221.2 412.2 223.4 414.7 224.6C417.2 225.8 420.9 229.7 424.0 231.9C427.1 234.2 429.7 236.9 433.3 238.1C436.9 239.3 442.0 239.0 445.8 238.9C449.6 238.8 452.4 235.0 455.9 237.3C459.4 239.6 463.2 251.9 466.7 252.9C470.2 253.9 473.6 247.7 476.9 243.5C480.1 239.3 482.6 230.5 486.2 228.0C489.8 225.5 494.7 226.4 498.6 228.3C502.5 230.2 505.9 238.3 509.5 239.7C513.1 241.1 516.9 234.7 520.4 236.5C523.9 238.3 527.0 251.0 530.5 250.5C534.0 250.0 537.9 235.5 541.4 233.4C544.9 231.3 548.6 236.7 551.5 238.1C554.4 239.5 557.0 241.0 559.0 241.8C561.0 242.6 561.1 243.8 563.6 242.8C566.1 241.9 570.2 236.2 573.7 236.1C577.2 236.0 580.8 240.4 584.5 242.0C588.2 243.6 592.6 249.9 596.2 245.9C599.8 241.9 602.8 220.6 606.3 217.9C609.8 215.2 613.7 225.7 617.2 229.5C620.7 233.3 623.9 238.4 627.3 240.7C630.7 243.0 633.8 242.1 637.4 243.2C641.0 244.3 645.3 249.5 649.1 247.4C652.9 245.3 656.4 232.6 660.0 230.8C663.6 229.0 667.3 234.2 670.9 236.5C674.5 238.8 678.2 242.4 681.7 244.3C685.2 246.2 688.4 246.8 691.9 248.2C695.4 249.6 699.1 253.2 702.7 252.6C706.3 252.0 710.0 245.2 713.6 244.8C717.2 244.5 721.0 251.8 724.5 250.5C728.0 249.2 731.0 239.2 734.6 237.0C738.2 234.8 742.5 236.4 746.3 237.0C750.1 237.6 753.6 240.4 757.2 240.7C760.8 241.0 764.5 241.7 768.1 238.9C771.7 236.1 775.2 224.2 778.6 224.1C782.0 224.0 785.2 236.3 788.7 238.6C792.2 240.9 795.9 236.0 799.5 238.1C803.1 240.2 806.9 252.7 810.4 251.3C813.9 249.9 817.1 232.6 820.5 229.9C823.9 227.2 826.9 231.3 830.7 235.0C834.5 238.7 839.2 251.6 843.1 252.1C847.0 252.6 850.4 238.6 854.0 238.1C857.6 237.6 861.3 248.8 864.9 249.0C868.5 249.2 871.9 238.9 875.4 239.2C878.9 239.4 882.2 250.9 885.9 250.5C889.6 250.1 893.9 240.6 897.5 236.5C901.1 232.4 904.1 224.7 907.6 226.1C911.1 227.5 915.0 241.2 918.5 245.1C922.0 249.0 925.0 250.8 928.6 249.5C932.2 248.2 936.7 237.0 940.3 237.0C943.9 237.0 946.9 247.9 950.4 249.5C953.9 251.1 957.8 249.8 961.3 246.7C964.8 243.6 967.8 233.2 971.4 230.8C975.0 228.4 979.5 232.8 983.1 232.3C986.7 231.8 990.1 230.4 992.8 228.0C995.5 225.6 997.2 220.5 999.3 217.9C1001.4 215.3 1002.8 212.4 1005.2 212.4C1007.6 212.4 1011.3 216.0 1013.8 217.9C1016.3 219.8 1018.0 222.4 1020.0 224.1C1022.0 225.8 1023.8 228.7 1025.7 228.3C1027.7 227.9 1029.8 223.5 1031.7 221.8C1033.6 220.1 1035.3 217.7 1037.1 217.9C1038.8 218.2 1040.2 221.0 1042.2 223.3C1044.2 225.6 1046.2 229.7 1048.8 231.9C1051.4 234.1 1054.7 234.1 1058.1 236.5C1061.5 238.9 1065.4 245.8 1069.0 246.3C1072.6 246.8 1076.3 241.6 1079.9 239.7C1083.5 237.8 1087.3 233.7 1090.8 235.0C1094.3 236.3 1097.4 245.8 1100.9 247.4C1104.4 249.0 1108.2 247.5 1111.8 244.3C1115.4 241.1 1119.0 229.8 1122.6 228.0C1126.2 226.2 1129.9 234.1 1133.5 233.4C1137.1 232.7 1140.6 225.3 1144.4 223.6C1148.2 221.9 1153.4 221.0 1156.1 223.0C1158.8 225.0 1159.0 230.6 1160.7 235.8C1162.4 241.0 1163.5 253.9 1166.2 254.4C1168.9 254.9 1173.6 240.2 1177.1 238.9C1180.6 237.6 1183.7 245.6 1187.2 246.7C1190.7 247.8 1194.5 246.2 1198.1 245.4C1201.7 244.6 1205.4 240.9 1209.0 242.0C1212.6 243.1 1216.3 254.8 1219.9 252.1C1223.5 249.4 1227.2 227.6 1230.8 225.7C1234.4 223.8 1239.0 241.6 1241.7 240.4C1244.4 239.2 1245.3 224.9 1247.1 218.7C1248.9 212.5 1250.7 204.3 1252.5 203.4C1254.3 202.5 1256.2 208.7 1258.0 213.2C1259.8 217.7 1260.9 224.5 1263.4 230.3C1265.9 236.1 1269.2 244.8 1272.8 248.2C1276.4 251.6 1281.3 251.7 1285.2 250.5C1289.1 249.3 1292.6 245.2 1296.1 241.2C1299.6 237.2 1302.8 227.8 1306.2 226.4C1309.6 225.0 1312.8 227.6 1316.3 232.7C1319.8 237.8 1323.6 254.6 1327.2 256.8C1330.8 259.0 1334.5 248.1 1338.1 245.9C1341.7 243.7 1345.4 244.4 1349.0 243.5C1352.6 242.6 1356.3 240.4 1359.9 240.4C1363.5 240.4 1367.1 244.4 1370.7 243.5C1374.3 242.6 1379.8 236.4 1381.6 235.0L1381.6 250.5C1379.8 251.8 1374.3 257.2 1370.7 258.3C1367.1 259.4 1363.5 256.5 1359.9 256.8C1356.3 257.1 1352.6 258.7 1349.0 259.9C1345.4 261.1 1341.7 262.1 1338.1 263.8C1334.5 265.5 1330.8 272.6 1327.2 270.0C1323.6 267.4 1319.8 252.7 1316.3 248.2C1312.8 243.7 1309.6 240.7 1306.2 242.8C1302.8 244.9 1299.6 256.8 1296.1 260.7C1292.6 264.6 1289.1 265.7 1285.2 266.1C1281.3 266.5 1276.4 266.2 1272.8 263.0C1269.2 259.8 1265.9 252.0 1263.4 246.7C1260.9 241.4 1259.8 234.9 1258.0 231.1C1256.2 227.3 1254.3 223.3 1252.5 224.1C1250.7 224.9 1248.9 230.8 1247.1 235.8C1245.3 240.9 1244.4 253.4 1241.7 254.4C1239.0 255.4 1234.4 240.0 1230.8 242.0C1227.2 244.0 1223.5 264.1 1219.9 266.6C1216.3 269.1 1212.6 258.1 1209.0 257.2C1205.4 256.3 1201.7 260.4 1198.1 261.4C1194.5 262.4 1190.7 263.9 1187.2 263.0C1183.7 262.1 1180.6 254.5 1177.1 255.7C1173.6 256.9 1168.9 271.0 1166.2 270.0C1163.5 269.0 1162.4 255.2 1160.7 249.8C1159.0 244.4 1158.8 239.6 1156.1 237.6C1153.4 235.6 1148.2 234.6 1144.4 238.1C1140.6 241.6 1137.1 257.4 1133.5 258.8C1129.9 260.2 1126.2 246.4 1122.6 246.3C1119.0 246.2 1115.4 255.3 1111.8 258.3C1108.2 261.3 1104.4 262.9 1100.9 264.5C1097.4 266.1 1094.3 269.9 1090.8 268.1C1087.3 266.3 1083.5 254.4 1079.9 253.7C1076.3 253.0 1072.6 263.6 1069.0 263.8C1065.4 264.1 1061.7 257.7 1058.1 255.2C1054.5 252.7 1050.7 250.3 1047.2 249.0C1043.7 247.7 1039.7 247.4 1037.1 247.4C1034.5 247.4 1033.6 248.5 1031.7 249.0C1029.8 249.5 1027.6 251.8 1025.7 250.5C1023.8 249.2 1021.9 243.5 1020.5 241.0C1019.1 238.5 1018.8 236.7 1017.5 235.5C1016.2 234.3 1014.9 234.1 1013.0 233.8C1011.1 233.5 1007.9 233.6 1006.0 233.8C1004.1 234.0 1002.8 234.0 1001.5 235.0C1000.2 236.0 999.7 238.3 998.5 240.0C997.3 241.7 996.9 243.1 994.3 245.1C991.7 247.1 986.9 251.1 983.1 252.1C979.3 253.1 975.0 249.4 971.4 251.3C967.8 253.2 964.8 261.2 961.3 263.5C957.8 265.8 953.9 266.7 950.4 265.3C946.9 263.9 943.9 255.1 940.3 255.2C936.7 255.3 932.2 265.5 928.6 266.1C925.0 266.8 921.6 261.4 918.5 259.1C915.4 256.9 913.5 253.7 910.0 252.6C906.5 251.5 901.5 250.3 897.5 252.6C893.5 254.8 889.6 265.4 885.9 266.1C882.2 266.8 878.9 256.7 875.4 256.8C871.9 256.9 868.5 267.6 864.9 266.9C861.3 266.2 857.6 252.1 854.0 252.6C850.4 253.1 846.7 268.5 843.1 269.7C839.5 270.9 835.8 263.1 832.2 259.9C828.6 256.7 824.9 249.5 821.3 250.5C817.7 251.5 814.0 265.4 810.4 266.1C806.8 266.8 803.1 256.5 799.5 254.7C795.9 252.9 792.2 256.8 788.7 255.2C785.2 253.6 782.0 245.1 778.6 245.1C775.2 245.1 771.7 253.4 768.1 255.2C764.5 257.0 760.8 255.8 757.2 255.7C753.6 255.6 750.1 254.9 746.3 254.4C742.5 253.9 738.2 251.0 734.6 252.9C731.0 254.8 728.0 264.4 724.5 265.6C721.0 266.8 717.2 260.0 713.6 260.3C710.0 260.6 706.3 267.1 702.7 267.7C699.1 268.3 695.4 265.4 691.9 264.1C688.4 262.8 685.2 262.1 681.7 259.9C678.2 257.7 674.5 252.6 670.9 251.0C667.3 249.4 663.6 248.0 660.0 250.1C656.4 252.2 652.9 261.9 649.1 263.5C645.3 265.1 641.0 261.4 637.4 259.9C633.8 258.4 630.7 256.1 627.3 254.7C623.9 253.3 620.7 252.0 617.2 251.6C613.7 251.2 609.8 250.8 606.3 252.1C602.8 253.4 599.8 258.8 596.2 259.4C592.6 260.0 588.2 257.6 584.5 256.0C580.8 254.4 577.2 250.0 573.7 250.1C570.2 250.2 566.1 255.1 563.6 256.3C561.1 257.5 561.0 257.2 559.0 257.5C557.0 257.8 554.4 259.5 551.5 258.3C548.6 257.1 544.9 248.8 541.4 250.1C537.9 251.4 534.0 264.9 530.5 266.1C527.0 267.3 524.3 259.1 520.4 257.2C516.5 255.2 511.3 256.8 507.2 254.4C503.1 252.0 499.0 244.8 495.5 242.8C492.0 240.8 489.3 239.3 486.2 242.3C483.1 245.3 480.1 256.1 476.9 260.7C473.6 265.3 470.2 270.1 466.7 270.0C463.2 269.9 459.4 262.4 455.9 259.9C452.4 257.3 449.6 255.6 445.8 254.7C442.0 253.8 436.9 254.9 433.3 254.7C429.7 254.5 427.6 255.3 424.0 253.7C420.4 252.1 415.3 243.8 411.5 245.1C407.7 246.4 404.4 260.5 401.4 261.4C398.4 262.3 396.1 253.6 393.7 250.5C391.2 247.4 389.2 244.7 386.7 242.8C384.2 240.9 381.9 236.2 378.9 238.9C375.9 241.6 372.2 254.6 368.8 259.1C365.4 263.6 361.9 266.8 358.7 266.1C355.4 265.5 352.4 258.1 349.3 255.2C346.2 252.3 343.8 250.4 340.0 249.0C336.2 247.6 330.5 244.5 326.4 246.7C322.3 248.9 319.0 260.0 315.5 262.2C312.0 264.4 309.1 260.8 305.4 259.9C301.6 259.0 296.9 257.5 293.0 256.8C289.1 256.1 285.5 257.0 282.1 255.7C278.7 254.4 275.8 248.5 272.4 249.0C269.0 249.5 265.7 257.4 261.9 258.8C258.1 260.2 253.0 259.5 249.4 257.2C245.8 254.9 243.5 245.3 240.1 244.8C236.7 244.3 232.8 253.3 229.2 254.4C225.6 255.5 221.8 253.4 218.3 251.3C214.8 249.2 211.7 240.3 208.2 241.7C204.7 243.1 200.8 256.5 197.3 259.9C193.8 263.3 190.7 262.2 187.2 262.2C183.7 262.2 180.1 261.1 176.3 259.9C172.6 258.7 168.4 255.2 164.7 255.2C160.9 255.2 157.3 260.1 153.8 259.9C150.3 259.6 147.3 254.6 143.7 253.7C140.1 252.8 133.9 254.5 132.0 254.7Z" fill="#3db670" stroke="none"/>
<path d="M132.0 328.4C135.6 328.6 146.7 329.7 153.8 329.7C160.9 329.7 169.2 328.0 174.8 328.4C180.4 328.8 183.4 331.9 187.2 331.9C190.9 331.9 193.9 330.1 197.3 328.4C200.7 326.6 203.9 321.3 207.4 321.4C210.9 321.5 214.7 327.8 218.3 329.2C221.9 330.6 225.6 330.2 229.2 330.0C232.8 329.8 236.5 328.0 240.1 328.1C243.7 328.2 247.4 330.9 251.0 330.8C254.6 330.7 258.3 327.7 261.9 327.7C265.5 327.7 269.0 330.6 272.4 330.8C275.8 331.0 276.6 329.0 282.1 328.7C287.6 328.4 296.3 329.2 305.4 329.2C314.5 329.1 329.3 328.1 336.5 328.4C343.7 328.7 344.9 330.8 348.6 330.8C352.3 330.9 353.5 328.6 358.7 328.7C363.9 328.8 374.5 331.4 379.7 331.5C384.9 331.6 386.2 329.3 389.8 329.2C393.4 329.1 396.0 331.0 401.4 330.8C406.8 330.6 415.1 328.1 422.4 328.1C429.7 328.1 439.4 330.7 445.0 330.8C450.6 330.9 452.3 329.1 455.9 328.7C459.5 328.3 463.2 328.9 466.7 328.7C470.2 328.4 473.4 327.2 476.9 327.2C480.4 327.1 484.1 328.4 487.7 328.4C491.3 328.3 493.2 326.7 498.6 326.9C504.1 327.1 513.3 329.3 520.4 329.7C527.5 330.1 536.2 328.9 541.4 329.2C546.6 329.5 548.4 331.4 551.5 331.5C554.6 331.6 556.3 330.1 560.0 329.7C563.7 329.3 569.6 329.6 573.7 329.2C577.8 328.8 580.8 327.2 584.5 327.2C588.2 327.2 592.6 328.9 596.2 329.2C599.8 329.5 602.8 329.0 606.3 329.2C609.8 329.4 612.0 330.5 617.2 330.3C622.4 330.1 632.1 328.4 637.4 328.1C642.7 327.8 643.5 328.9 649.1 328.7C654.7 328.4 665.5 326.2 670.9 326.6C676.3 327.0 678.2 330.0 681.7 330.8C685.2 331.6 688.4 331.6 691.9 331.2C695.4 330.8 699.1 328.7 702.7 328.1C706.3 327.5 710.0 327.4 713.6 327.7C717.2 328.0 720.9 329.6 724.5 329.7C728.1 329.8 731.8 329.2 735.4 328.4C739.0 327.6 742.7 326.0 746.3 325.0C749.9 324.0 753.6 321.9 757.2 322.5C760.8 323.1 764.6 327.5 768.1 328.4C771.6 329.3 774.5 327.6 778.0 327.7C781.5 327.8 784.0 328.8 789.4 328.7C794.8 328.6 804.9 326.5 810.4 326.9C815.9 327.2 818.5 330.4 822.1 330.8C825.7 331.2 828.7 329.2 832.2 329.2C835.7 329.2 839.5 331.0 843.1 330.8C846.7 330.6 850.4 328.1 854.0 328.1C857.6 328.1 860.8 330.8 864.9 330.8C869.0 330.8 873.5 328.3 878.9 328.1C884.3 327.9 892.7 329.2 897.5 329.7C902.3 330.1 904.1 331.3 907.6 330.8C911.1 330.3 914.7 326.8 918.5 326.9C922.3 327.0 924.9 330.9 930.2 331.2C935.5 331.4 945.1 328.7 950.4 328.4C955.7 328.1 958.5 329.4 962.1 329.2C965.7 329.0 968.7 327.1 972.2 327.2C975.7 327.3 979.5 329.5 983.1 329.7C986.7 329.9 990.3 328.7 994.0 328.4C997.7 328.1 1001.8 328.4 1005.2 328.1C1008.6 327.8 1009.2 326.7 1014.5 326.6C1019.8 326.5 1029.8 327.2 1037.1 327.7C1044.4 328.2 1052.8 329.1 1058.1 329.7C1063.4 330.3 1065.4 331.4 1069.0 331.2C1072.6 331.0 1074.6 328.5 1079.9 328.4C1085.2 328.3 1095.6 330.9 1100.9 330.8C1106.2 330.7 1106.4 328.3 1111.8 327.7C1117.2 327.1 1128.1 327.1 1133.5 327.2C1138.9 327.3 1140.6 328.3 1144.4 328.4C1148.2 328.5 1152.5 327.6 1156.1 327.7C1159.7 327.8 1162.7 328.6 1166.2 328.7C1169.7 328.8 1172.3 328.2 1177.1 328.1C1181.9 328.0 1189.7 327.8 1195.0 328.1C1200.3 328.4 1203.5 330.1 1209.0 330.0C1214.5 329.9 1221.4 327.2 1227.7 327.2C1234.0 327.2 1243.0 329.5 1247.1 330.0C1251.2 330.5 1250.0 331.1 1252.5 330.3C1255.0 329.5 1258.5 325.7 1261.9 325.3C1265.3 324.9 1268.9 327.2 1272.8 327.7C1276.7 328.2 1279.6 328.0 1285.2 328.1C1290.8 328.2 1301.0 327.7 1306.2 328.1C1311.4 328.6 1311.0 330.4 1316.3 330.8C1321.6 331.2 1332.6 330.1 1338.1 330.3C1343.5 330.5 1345.4 332.1 1349.0 331.9C1352.6 331.7 1356.3 329.5 1359.9 329.2C1363.5 328.9 1367.1 330.2 1370.7 330.0C1374.3 329.8 1379.8 328.1 1381.6 327.7" fill="none" stroke="#2ecc71" stroke-width="2.4" stroke-linejoin="round" stroke-linecap="round"/>
<path d="M132.0 296.5C133.9 297.8 140.1 303.2 143.7 304.3C147.3 305.4 150.3 302.8 153.8 302.8C157.3 302.8 160.9 304.2 164.7 304.3C168.4 304.4 172.6 302.6 176.3 303.5C180.1 304.4 183.7 309.9 187.2 309.8C190.7 309.7 193.8 306.4 197.3 302.8C200.8 299.2 204.7 289.7 208.2 288.0C211.7 286.3 214.8 290.8 218.3 292.7C221.8 294.6 225.6 299.0 229.2 299.7C232.8 300.4 236.5 297.3 240.1 297.0C243.7 296.7 247.4 298.1 251.0 298.1C254.6 298.2 258.3 298.7 261.9 297.3C265.5 295.9 269.0 289.9 272.4 289.9C275.8 289.9 278.7 295.9 282.1 297.3C285.5 298.7 289.1 297.6 293.0 298.1C296.9 298.6 301.6 299.0 305.4 300.4C309.1 301.8 312.0 305.5 315.5 306.7C319.0 307.9 322.9 308.7 326.4 307.4C329.9 306.1 333.7 299.9 336.5 298.9C339.3 297.9 341.0 300.3 343.0 301.5C345.0 302.7 346.0 305.7 348.6 305.9C351.2 306.1 355.2 303.4 358.7 302.8C362.2 302.2 366.1 304.5 369.5 302.3C372.9 300.1 375.5 291.2 378.9 289.5C382.3 287.8 386.1 289.8 389.8 291.9C393.6 294.0 397.6 299.8 401.4 302.0C405.1 304.2 408.8 304.8 412.3 305.1C415.8 305.4 418.9 303.8 422.4 303.9C425.9 304.0 429.5 307.5 433.3 305.9C437.1 304.3 441.2 294.6 445.0 294.2C448.8 293.8 452.3 301.0 455.9 303.5C459.5 306.0 463.2 309.9 466.7 309.0C470.2 308.1 473.4 301.1 476.9 298.1C480.4 295.1 483.9 292.5 487.7 291.1C491.4 289.7 495.9 287.9 499.4 289.9C502.9 291.9 505.2 301.3 508.7 303.2C512.2 305.1 516.8 300.9 520.4 301.2C524.0 301.5 527.0 306.3 530.5 305.1C534.0 303.9 537.9 293.9 541.4 293.9C544.9 293.8 548.9 303.2 551.5 304.8C554.1 306.4 555.0 304.3 557.0 303.5C559.0 302.7 560.8 301.0 563.6 300.1C566.4 299.2 570.2 298.3 573.7 298.1C577.2 297.9 580.8 298.1 584.5 298.9C588.2 299.7 592.6 302.2 596.2 302.8C599.8 303.4 602.8 303.4 606.3 302.3C609.8 301.2 613.7 297.8 617.2 296.5C620.7 295.2 623.9 294.4 627.3 294.5C630.7 294.6 633.8 295.9 637.4 297.3C641.0 298.7 645.3 303.2 649.1 302.8C652.9 302.4 656.4 297.4 660.0 295.0C663.6 292.6 668.2 288.3 670.9 288.3C673.6 288.3 674.5 292.0 676.3 295.0C678.1 298.0 679.1 305.2 681.7 306.3C684.3 307.4 688.4 301.9 691.9 301.7C695.4 301.5 699.1 305.7 702.7 305.1C706.3 304.5 710.0 298.5 713.6 298.1C717.2 297.7 720.9 302.4 724.5 302.8C728.1 303.2 731.8 300.7 735.4 300.4C739.0 300.1 742.7 302.6 746.3 301.2C749.9 299.8 753.6 292.1 757.2 291.9C760.8 291.7 764.5 299.9 768.1 300.1C771.7 300.4 775.1 294.2 778.6 293.4C782.1 292.5 785.9 292.8 789.4 295.0C792.9 297.2 796.0 305.0 799.5 306.7C803.0 308.4 806.6 305.3 810.4 305.1C814.2 304.9 818.5 306.4 822.1 305.4C825.7 304.4 828.7 297.8 832.2 298.9C835.7 300.0 839.5 311.5 843.1 312.1C846.7 312.8 850.4 302.7 854.0 302.8C857.6 302.9 861.3 313.0 864.9 312.9C868.5 312.8 871.9 303.5 875.4 302.3C878.9 301.1 882.2 305.8 885.9 305.9C889.6 306.0 893.9 304.6 897.5 302.8C901.1 301.0 904.1 296.1 907.6 295.0C911.1 293.9 915.0 294.8 918.5 296.5C922.0 298.2 925.0 304.0 928.6 305.1C932.2 306.2 936.7 302.5 940.3 303.2C943.9 303.9 946.8 308.5 950.4 309.5C954.0 310.5 958.6 310.6 962.1 309.0C965.6 307.4 967.9 302.5 971.4 300.1C974.9 297.7 979.3 295.9 983.1 294.5C986.9 293.1 990.6 292.7 994.3 291.9C998.0 291.1 1001.8 290.0 1005.2 289.9C1008.6 289.8 1011.1 290.0 1014.5 291.1C1017.9 292.2 1022.8 294.9 1025.7 296.5C1028.6 298.1 1029.8 299.2 1031.7 300.4C1033.6 301.6 1034.5 304.1 1037.1 303.5C1039.7 302.9 1043.7 296.8 1047.2 296.5C1050.7 296.2 1054.5 300.7 1058.1 302.0C1061.7 303.3 1065.4 305.3 1069.0 304.3C1072.6 303.3 1076.3 295.5 1079.9 296.1C1083.5 296.8 1087.3 306.8 1090.8 308.2C1094.3 309.6 1097.4 305.6 1100.9 304.3C1104.4 303.0 1108.2 302.5 1111.8 300.4C1115.4 298.3 1119.0 291.7 1122.6 291.9C1126.2 292.1 1129.9 301.4 1133.5 301.7C1137.1 301.9 1140.6 295.0 1144.4 293.4C1148.2 291.8 1152.5 290.2 1156.1 292.3C1159.7 294.4 1162.7 305.5 1166.2 305.9C1169.7 306.3 1173.6 294.8 1177.1 294.5C1180.6 294.2 1183.7 303.2 1187.2 304.3C1190.7 305.4 1194.5 301.3 1198.1 301.2C1201.7 301.1 1205.4 302.7 1209.0 303.5C1212.6 304.3 1216.3 307.8 1219.9 305.9C1223.5 304.0 1227.2 293.1 1230.8 292.3C1234.4 291.5 1239.0 300.0 1241.7 301.2C1244.4 302.4 1245.3 300.4 1247.1 299.7C1248.9 299.0 1250.7 297.9 1252.5 297.0C1254.3 296.1 1256.2 294.8 1258.0 294.2C1259.8 293.6 1260.9 291.9 1263.4 293.4C1265.9 294.9 1269.2 301.6 1272.8 303.2C1276.4 304.8 1281.3 303.1 1285.2 303.2C1289.1 303.2 1292.6 304.2 1296.1 303.5C1299.6 302.8 1302.8 299.3 1306.2 299.2C1309.6 299.1 1312.8 301.4 1316.3 302.8C1319.8 304.2 1323.6 306.6 1327.2 307.4C1330.8 308.2 1334.5 308.1 1338.1 307.4C1341.7 306.7 1345.4 304.2 1349.0 303.2C1352.6 302.2 1356.3 300.9 1359.9 301.2C1363.5 301.5 1367.1 305.8 1370.7 305.1C1374.3 304.5 1379.8 298.6 1381.6 297.3" fill="none" stroke="#9b59b6" stroke-width="2.4" stroke-linejoin="round" stroke-linecap="round"/>
<path d="M132.0 272.3C133.9 274.4 140.1 283.4 143.7 284.8C147.3 286.2 150.3 282.6 153.8 280.9C157.3 279.2 160.9 275.0 164.7 274.7C168.4 274.4 172.6 278.0 176.3 279.3C180.1 280.6 183.7 283.7 187.2 282.4C190.7 281.1 193.8 275.1 197.3 271.5C200.8 267.9 204.7 261.2 208.2 260.7C211.7 260.2 214.8 266.8 218.3 268.4C221.8 269.9 225.6 270.5 229.2 270.0C232.8 269.5 236.5 264.5 240.1 265.3C243.7 266.1 247.4 273.0 251.0 274.7C254.6 276.4 258.3 276.2 261.9 275.4C265.5 274.6 269.0 270.1 272.4 270.0C275.8 269.9 278.7 273.7 282.1 274.7C285.5 275.7 289.1 276.0 293.0 276.2C296.9 276.4 301.6 276.0 305.4 275.9C309.1 275.8 312.0 276.9 315.5 275.4C319.0 273.9 322.9 268.6 326.4 266.9C329.9 265.2 333.7 264.8 336.5 265.0C339.3 265.2 340.8 265.9 343.0 268.0C345.2 270.1 347.4 275.0 350.0 277.5C352.6 280.0 355.6 282.6 358.7 283.2C361.8 283.8 365.3 284.6 368.8 280.9C372.3 277.2 376.2 263.1 379.7 261.0C383.2 258.9 386.2 265.2 389.8 268.4C393.4 271.6 397.6 280.3 401.4 280.1C405.1 279.9 408.8 267.9 412.3 267.2C415.8 266.5 418.9 274.8 422.4 276.2C425.9 277.6 429.4 275.4 433.3 275.4C437.2 275.4 442.0 275.3 445.8 276.2C449.6 277.1 452.4 278.8 455.9 280.9C459.4 283.0 463.2 289.4 466.7 288.6C470.2 287.8 473.6 279.8 476.9 276.2C480.1 272.6 482.6 268.8 486.2 267.2C489.8 265.6 494.7 264.6 498.6 266.9C502.5 269.2 505.9 280.0 509.5 280.9C513.1 281.8 516.9 272.3 520.4 272.3C523.9 272.3 527.0 281.1 530.5 280.9C534.0 280.6 537.3 271.7 541.4 270.8C545.5 269.9 551.3 274.5 555.0 275.4C558.7 276.2 560.5 277.7 563.6 275.9C566.7 274.1 570.2 264.1 573.7 264.5C577.2 264.9 580.8 276.4 584.5 278.5C588.2 280.6 592.6 278.0 596.2 277.4C599.8 276.8 602.8 275.8 606.3 274.7C609.8 273.6 613.7 271.3 617.2 270.8C620.7 270.3 623.9 270.9 627.3 271.8C630.7 272.7 633.8 274.0 637.4 276.2C641.0 278.4 645.3 286.8 649.1 285.2C652.9 283.6 656.4 269.8 660.0 266.9C663.6 264.0 667.3 266.6 670.9 268.1C674.5 269.7 678.2 274.0 681.7 276.2C685.2 278.4 688.4 279.7 691.9 281.2C695.4 282.7 699.1 286.0 702.7 285.2C706.3 284.4 710.0 276.5 713.6 276.2C717.2 275.9 720.9 282.4 724.5 283.2C728.1 284.0 731.8 282.3 735.4 280.9C739.0 279.5 742.7 276.1 746.3 275.0C749.9 273.9 753.6 274.1 757.2 274.3C760.8 274.5 764.5 277.8 768.1 276.2C771.7 274.6 775.2 265.6 778.6 264.5C782.0 263.4 785.2 267.8 788.7 269.7C792.2 271.6 795.9 273.7 799.5 276.2C803.1 278.7 806.8 285.5 810.4 284.8C814.0 284.1 817.7 273.1 821.3 271.8C824.9 270.5 828.6 274.0 832.2 277.0C835.8 280.0 839.5 289.6 843.1 289.9C846.7 290.1 850.4 279.1 854.0 278.5C857.6 277.9 861.3 287.0 864.9 286.3C868.5 285.6 871.9 275.1 875.4 274.3C878.9 273.5 882.2 281.8 885.9 281.6C889.6 281.4 893.5 274.5 897.5 273.1C901.5 271.7 906.5 272.6 910.0 273.1C913.5 273.6 915.4 274.4 918.5 276.2C921.6 278.0 925.0 284.7 928.6 284.0C932.2 283.3 936.7 271.3 940.3 271.8C943.9 272.3 946.9 285.0 950.4 286.8C953.9 288.6 957.8 285.1 961.3 282.4C964.8 279.7 967.8 272.9 971.4 270.8C975.0 268.7 979.3 269.9 983.1 270.0C986.9 270.1 991.7 272.0 994.3 271.5C996.9 271.0 997.3 269.0 998.5 267.0C999.7 265.0 1000.2 261.3 1001.5 259.5C1002.8 257.7 1004.1 256.9 1006.0 256.3C1007.9 255.7 1011.1 255.4 1013.0 255.8C1014.9 256.2 1016.2 256.9 1017.5 258.5C1018.8 260.1 1019.1 262.8 1020.5 265.5C1021.9 268.2 1023.8 273.6 1025.7 274.7C1027.6 275.8 1029.8 272.9 1031.7 272.3C1033.6 271.7 1034.5 270.8 1037.1 270.8C1039.7 270.8 1043.7 270.9 1047.2 272.3C1050.7 273.7 1054.5 278.3 1058.1 279.3C1061.7 280.3 1065.4 279.5 1069.0 278.5C1072.6 277.5 1076.3 272.2 1079.9 273.1C1083.5 274.0 1087.3 282.6 1090.8 284.0C1094.3 285.4 1097.4 283.2 1100.9 281.6C1104.4 280.1 1108.2 276.2 1111.8 274.7C1115.4 273.2 1119.0 272.0 1122.6 272.8C1126.2 273.6 1129.9 283.1 1133.5 279.3C1137.1 275.5 1140.6 252.4 1144.4 250.1C1148.2 247.8 1152.5 259.7 1156.1 265.3C1159.7 270.9 1162.7 283.1 1166.2 284.0C1169.7 284.9 1173.6 270.6 1177.1 270.8C1180.6 271.0 1183.7 283.8 1187.2 285.2C1190.7 286.6 1194.5 280.3 1198.1 279.3C1201.7 278.3 1205.4 278.1 1209.0 279.0C1212.6 279.9 1216.3 286.1 1219.9 284.8C1223.5 283.5 1227.2 271.5 1230.8 271.2C1234.4 270.9 1239.0 282.9 1241.7 283.2C1244.4 283.5 1245.3 275.8 1247.1 273.1C1248.9 270.4 1249.8 267.7 1252.5 266.9C1255.2 266.1 1260.0 266.1 1263.4 268.4C1266.8 270.7 1269.2 278.7 1272.8 280.9C1276.4 283.1 1281.3 282.4 1285.2 281.6C1289.1 280.8 1292.6 278.6 1296.1 276.2C1299.6 273.8 1302.8 267.7 1306.2 267.2C1309.6 266.7 1312.8 270.2 1316.3 273.1C1319.8 276.0 1323.6 283.4 1327.2 284.8C1330.8 286.2 1334.5 282.9 1338.1 281.6C1341.7 280.3 1345.4 278.4 1349.0 277.0C1352.6 275.6 1356.3 273.3 1359.9 273.1C1363.5 272.9 1367.1 275.8 1370.7 275.9C1374.3 276.0 1379.8 274.2 1381.6 273.9" fill="none" stroke="#ff9326" stroke-width="2.4" stroke-linejoin="round" stroke-linecap="round"/>
<path d="M132.0 254.7C133.9 254.5 140.1 252.8 143.7 253.7C147.3 254.6 150.3 259.6 153.8 259.9C157.3 260.1 160.9 255.2 164.7 255.2C168.4 255.2 172.6 258.7 176.3 259.9C180.1 261.1 183.7 262.2 187.2 262.2C190.7 262.2 193.8 263.3 197.3 259.9C200.8 256.5 204.7 243.1 208.2 241.7C211.7 240.3 214.8 249.2 218.3 251.3C221.8 253.4 225.6 255.5 229.2 254.4C232.8 253.3 236.7 244.3 240.1 244.8C243.5 245.3 245.8 254.9 249.4 257.2C253.0 259.5 258.1 260.2 261.9 258.8C265.7 257.4 269.0 249.5 272.4 249.0C275.8 248.5 278.7 254.4 282.1 255.7C285.5 257.0 289.1 256.1 293.0 256.8C296.9 257.5 301.6 259.0 305.4 259.9C309.1 260.8 312.0 264.4 315.5 262.2C319.0 260.0 322.3 248.9 326.4 246.7C330.5 244.5 336.2 247.6 340.0 249.0C343.8 250.4 346.2 252.3 349.3 255.2C352.4 258.1 355.4 265.5 358.7 266.1C361.9 266.8 365.4 263.6 368.8 259.1C372.2 254.6 375.9 241.6 378.9 238.9C381.9 236.2 384.2 240.9 386.7 242.8C389.2 244.7 391.2 247.4 393.7 250.5C396.1 253.6 398.4 262.3 401.4 261.4C404.4 260.5 407.7 246.4 411.5 245.1C415.3 243.8 420.4 252.1 424.0 253.7C427.6 255.3 429.7 254.5 433.3 254.7C436.9 254.9 442.0 253.8 445.8 254.7C449.6 255.6 452.4 257.3 455.9 259.9C459.4 262.4 463.2 269.9 466.7 270.0C470.2 270.1 473.6 265.3 476.9 260.7C480.1 256.1 483.1 245.3 486.2 242.3C489.3 239.3 492.0 240.8 495.5 242.8C499.0 244.8 503.1 252.0 507.2 254.4C511.3 256.8 516.5 255.2 520.4 257.2C524.3 259.1 527.0 267.3 530.5 266.1C534.0 264.9 537.9 251.4 541.4 250.1C544.9 248.8 548.6 257.1 551.5 258.3C554.4 259.5 557.0 257.8 559.0 257.5C561.0 257.2 561.1 257.5 563.6 256.3C566.1 255.1 570.2 250.2 573.7 250.1C577.2 250.0 580.8 254.4 584.5 256.0C588.2 257.6 592.6 260.0 596.2 259.4C599.8 258.8 602.8 253.4 606.3 252.1C609.8 250.8 613.7 251.2 617.2 251.6C620.7 252.0 623.9 253.3 627.3 254.7C630.7 256.1 633.8 258.4 637.4 259.9C641.0 261.4 645.3 265.1 649.1 263.5C652.9 261.9 656.4 252.2 660.0 250.1C663.6 248.0 667.3 249.4 670.9 251.0C674.5 252.6 678.2 257.7 681.7 259.9C685.2 262.1 688.4 262.8 691.9 264.1C695.4 265.4 699.1 268.3 702.7 267.7C706.3 267.1 710.0 260.6 713.6 260.3C717.2 260.0 721.0 266.8 724.5 265.6C728.0 264.4 731.0 254.8 734.6 252.9C738.2 251.0 742.5 253.9 746.3 254.4C750.1 254.9 753.6 255.6 757.2 255.7C760.8 255.8 764.5 257.0 768.1 255.2C771.7 253.4 775.2 245.1 778.6 245.1C782.0 245.1 785.2 253.6 788.7 255.2C792.2 256.8 795.9 252.9 799.5 254.7C803.1 256.5 806.8 266.8 810.4 266.1C814.0 265.4 817.7 251.5 821.3 250.5C824.9 249.5 828.6 256.7 832.2 259.9C835.8 263.1 839.5 270.9 843.1 269.7C846.7 268.5 850.4 253.1 854.0 252.6C857.6 252.1 861.3 266.2 864.9 266.9C868.5 267.6 871.9 256.9 875.4 256.8C878.9 256.7 882.2 266.8 885.9 266.1C889.6 265.4 893.5 254.8 897.5 252.6C901.5 250.3 906.5 251.5 910.0 252.6C913.5 253.7 915.4 256.9 918.5 259.1C921.6 261.4 925.0 266.8 928.6 266.1C932.2 265.5 936.7 255.3 940.3 255.2C943.9 255.1 946.9 263.9 950.4 265.3C953.9 266.7 957.8 265.8 961.3 263.5C964.8 261.2 967.8 253.2 971.4 251.3C975.0 249.4 979.3 253.1 983.1 252.1C986.9 251.1 991.7 247.1 994.3 245.1C996.9 243.1 997.3 241.7 998.5 240.0C999.7 238.3 1000.2 236.0 1001.5 235.0C1002.8 234.0 1004.1 234.0 1006.0 233.8C1007.9 233.6 1011.1 233.5 1013.0 233.8C1014.9 234.1 1016.2 234.3 1017.5 235.5C1018.8 236.7 1019.1 238.5 1020.5 241.0C1021.9 243.5 1023.8 249.2 1025.7 250.5C1027.6 251.8 1029.8 249.5 1031.7 249.0C1033.6 248.5 1034.5 247.4 1037.1 247.4C1039.7 247.4 1043.7 247.7 1047.2 249.0C1050.7 250.3 1054.5 252.7 1058.1 255.2C1061.7 257.7 1065.4 264.1 1069.0 263.8C1072.6 263.6 1076.3 253.0 1079.9 253.7C1083.5 254.4 1087.3 266.3 1090.8 268.1C1094.3 269.9 1097.4 266.1 1100.9 264.5C1104.4 262.9 1108.2 261.3 1111.8 258.3C1115.4 255.3 1119.0 246.2 1122.6 246.3C1126.2 246.4 1129.9 260.2 1133.5 258.8C1137.1 257.4 1140.6 241.6 1144.4 238.1C1148.2 234.6 1153.4 235.6 1156.1 237.6C1158.8 239.6 1159.0 244.4 1160.7 249.8C1162.4 255.2 1163.5 269.0 1166.2 270.0C1168.9 271.0 1173.6 256.9 1177.1 255.7C1180.6 254.5 1183.7 262.1 1187.2 263.0C1190.7 263.9 1194.5 262.4 1198.1 261.4C1201.7 260.4 1205.4 256.3 1209.0 257.2C1212.6 258.1 1216.3 269.1 1219.9 266.6C1223.5 264.1 1227.2 244.0 1230.8 242.0C1234.4 240.0 1239.0 255.4 1241.7 254.4C1244.4 253.4 1245.3 240.9 1247.1 235.8C1248.9 230.8 1250.7 224.9 1252.5 224.1C1254.3 223.3 1256.2 227.3 1258.0 231.1C1259.8 234.9 1260.9 241.4 1263.4 246.7C1265.9 252.0 1269.2 259.8 1272.8 263.0C1276.4 266.2 1281.3 266.5 1285.2 266.1C1289.1 265.7 1292.6 264.6 1296.1 260.7C1299.6 256.8 1302.8 244.9 1306.2 242.8C1309.6 240.7 1312.8 243.7 1316.3 248.2C1319.8 252.7 1323.6 267.4 1327.2 270.0C1330.8 272.6 1334.5 265.5 1338.1 263.8C1341.7 262.1 1345.4 261.1 1349.0 259.9C1352.6 258.7 1356.3 257.1 1359.9 256.8C1363.5 256.5 1367.1 259.4 1370.7 258.3C1374.3 257.2 1379.8 251.8 1381.6 250.5" fill="none" stroke="#c0392b" stroke-width="2.4" stroke-linejoin="round" stroke-linecap="round"/>
<path d="M132.0 241.2C133.7 240.8 138.5 239.6 142.1 238.6C145.7 237.6 150.2 234.8 153.8 235.0C157.4 235.2 160.4 238.8 163.9 239.7C167.4 240.5 171.1 239.1 174.8 240.1C178.6 241.1 182.8 244.9 186.4 245.6C190.0 246.3 192.9 247.2 196.5 244.3C200.1 241.4 204.6 229.3 208.2 228.0C211.8 226.7 214.8 234.4 218.3 236.5C221.8 238.6 225.6 242.2 229.2 240.7C232.8 239.2 236.5 228.4 240.1 227.7C243.7 227.0 247.4 233.9 251.0 236.5C254.6 239.1 258.3 246.0 261.9 243.2C265.5 240.3 269.0 220.6 272.4 219.4C275.8 218.2 278.8 232.2 282.1 235.8C285.4 239.4 288.4 241.3 292.2 240.7C295.9 240.0 300.7 231.0 304.6 231.9C308.5 232.8 311.9 246.6 315.5 246.3C319.1 246.0 322.3 232.5 326.4 230.3C330.5 228.2 336.2 231.8 340.0 233.4C343.8 235.0 346.2 237.2 349.3 239.7C352.4 242.2 355.4 247.3 358.7 248.2C361.9 249.1 365.6 249.5 368.8 245.1C372.0 240.7 375.1 225.6 378.1 221.8C381.1 218.1 384.1 221.3 386.7 222.6C389.3 223.9 391.2 225.5 393.7 229.5C396.1 233.5 398.8 247.5 401.4 246.7C404.0 245.9 407.0 228.6 409.2 224.9C411.4 221.2 412.2 223.4 414.7 224.6C417.2 225.8 420.9 229.7 424.0 231.9C427.1 234.2 429.7 236.9 433.3 238.1C436.9 239.3 442.0 239.0 445.8 238.9C449.6 238.8 452.4 235.0 455.9 237.3C459.4 239.6 463.2 251.9 466.7 252.9C470.2 253.9 473.6 247.7 476.9 243.5C480.1 239.3 482.6 230.5 486.2 228.0C489.8 225.5 494.7 226.4 498.6 228.3C502.5 230.2 505.9 238.3 509.5 239.7C513.1 241.1 516.9 234.7 520.4 236.5C523.9 238.3 527.0 251.0 530.5 250.5C534.0 250.0 537.9 235.5 541.4 233.4C544.9 231.3 548.6 236.7 551.5 238.1C554.4 239.5 557.0 241.0 559.0 241.8C561.0 242.6 561.1 243.8 563.6 242.8C566.1 241.9 570.2 236.2 573.7 236.1C577.2 236.0 580.8 240.4 584.5 242.0C588.2 243.6 592.6 249.9 596.2 245.9C599.8 241.9 602.8 220.6 606.3 217.9C609.8 215.2 613.7 225.7 617.2 229.5C620.7 233.3 623.9 238.4 627.3 240.7C630.7 243.0 633.8 242.1 637.4 243.2C641.0 244.3 645.3 249.5 649.1 247.4C652.9 245.3 656.4 232.6 660.0 230.8C663.6 229.0 667.3 234.2 670.9 236.5C674.5 238.8 678.2 242.4 681.7 244.3C685.2 246.2 688.4 246.8 691.9 248.2C695.4 249.6 699.1 253.2 702.7 252.6C706.3 252.0 710.0 245.2 713.6 244.8C717.2 244.5 721.0 251.8 724.5 250.5C728.0 249.2 731.0 239.2 734.6 237.0C738.2 234.8 742.5 236.4 746.3 237.0C750.1 237.6 753.6 240.4 757.2 240.7C760.8 241.0 764.5 241.7 768.1 238.9C771.7 236.1 775.2 224.2 778.6 224.1C782.0 224.0 785.2 236.3 788.7 238.6C792.2 240.9 795.9 236.0 799.5 238.1C803.1 240.2 806.9 252.7 810.4 251.3C813.9 249.9 817.1 232.6 820.5 229.9C823.9 227.2 826.9 231.3 830.7 235.0C834.5 238.7 839.2 251.6 843.1 252.1C847.0 252.6 850.4 238.6 854.0 238.1C857.6 237.6 861.3 248.8 864.9 249.0C868.5 249.2 871.9 238.9 875.4 239.2C878.9 239.4 882.2 250.9 885.9 250.5C889.6 250.1 893.9 240.6 897.5 236.5C901.1 232.4 904.1 224.7 907.6 226.1C911.1 227.5 915.0 241.2 918.5 245.1C922.0 249.0 925.0 250.8 928.6 249.5C932.2 248.2 936.7 237.0 940.3 237.0C943.9 237.0 946.9 247.9 950.4 249.5C953.9 251.1 957.8 249.8 961.3 246.7C964.8 243.6 967.8 233.2 971.4 230.8C975.0 228.4 979.5 232.8 983.1 232.3C986.7 231.8 990.1 230.4 992.8 228.0C995.5 225.6 997.2 220.5 999.3 217.9C1001.4 215.3 1002.8 212.4 1005.2 212.4C1007.6 212.4 1011.3 216.0 1013.8 217.9C1016.3 219.8 1018.0 222.4 1020.0 224.1C1022.0 225.8 1023.8 228.7 1025.7 228.3C1027.7 227.9 1029.8 223.5 1031.7 221.8C1033.6 220.1 1035.3 217.7 1037.1 217.9C1038.8 218.2 1040.2 221.0 1042.2 223.3C1044.2 225.6 1046.2 229.7 1048.8 231.9C1051.4 234.1 1054.7 234.1 1058.1 236.5C1061.5 238.9 1065.4 245.8 1069.0 246.3C1072.6 246.8 1076.3 241.6 1079.9 239.7C1083.5 237.8 1087.3 233.7 1090.8 235.0C1094.3 236.3 1097.4 245.8 1100.9 247.4C1104.4 249.0 1108.2 247.5 1111.8 244.3C1115.4 241.1 1119.0 229.8 1122.6 228.0C1126.2 226.2 1129.9 234.1 1133.5 233.4C1137.1 232.7 1140.6 225.3 1144.4 223.6C1148.2 221.9 1153.4 221.0 1156.1 223.0C1158.8 225.0 1159.0 230.6 1160.7 235.8C1162.4 241.0 1163.5 253.9 1166.2 254.4C1168.9 254.9 1173.6 240.2 1177.1 238.9C1180.6 237.6 1183.7 245.6 1187.2 246.7C1190.7 247.8 1194.5 246.2 1198.1 245.4C1201.7 244.6 1205.4 240.9 1209.0 242.0C1212.6 243.1 1216.3 254.8 1219.9 252.1C1223.5 249.4 1227.2 227.6 1230.8 225.7C1234.4 223.8 1239.0 241.6 1241.7 240.4C1244.4 239.2 1245.3 224.9 1247.1 218.7C1248.9 212.5 1250.7 204.3 1252.5 203.4C1254.3 202.5 1256.2 208.7 1258.0 213.2C1259.8 217.7 1260.9 224.5 1263.4 230.3C1265.9 236.1 1269.2 244.8 1272.8 248.2C1276.4 251.6 1281.3 251.7 1285.2 250.5C1289.1 249.3 1292.6 245.2 1296.1 241.2C1299.6 237.2 1302.8 227.8 1306.2 226.4C1309.6 225.0 1312.8 227.6 1316.3 232.7C1319.8 237.8 1323.6 254.6 1327.2 256.8C1330.8 259.0 1334.5 248.1 1338.1 245.9C1341.7 243.7 1345.4 244.4 1349.0 243.5C1352.6 242.6 1356.3 240.4 1359.9 240.4C1363.5 240.4 1367.1 244.4 1370.7 243.5C1374.3 242.6 1379.8 236.4 1381.6 235.0" fill="none" stroke="#27ae60" stroke-width="2.4" stroke-linejoin="round" stroke-linecap="round"/>
</g>
<rect x="132.0" y="145.0" width="135.0" height="205.0" fill="#f3b96e" fill-opacity="0.6" stroke="#a8865c" stroke-opacity="0.46" stroke-width="3" stroke-dasharray="7.5 7.5"/>
<rect x="278.0" y="145.0" width="323.0" height="205.0" fill="#f3b96e" fill-opacity="0.6" stroke="#a8865c" stroke-opacity="0.46" stroke-width="3" stroke-dasharray="7.5 7.5"/>
<rect x="611.0" y="145.0" width="388.4" height="205.0" fill="#f3b96e" fill-opacity="0.6" stroke="#a8865c" stroke-opacity="0.46" stroke-width="3" stroke-dasharray="7.5 7.5"/>
<rect x="1020.5" y="145.0" width="11.2" height="205.0" fill="#f3b96e" fill-opacity="0.6" stroke="#a8865c" stroke-opacity="0.46" stroke-width="3" stroke-dasharray="7.5 7.5"/>
<rect x="1042.0" y="145.0" width="205.0" height="205.0" fill="#f3b96e" fill-opacity="0.6" stroke="#a8865c" stroke-opacity="0.46" stroke-width="3" stroke-dasharray="7.5 7.5"/>
<rect x="1257.6" y="145.0" width="124.0" height="205.0" fill="#f3b96e" fill-opacity="0.6" stroke="#a8865c" stroke-opacity="0.46" stroke-width="3" stroke-dasharray="7.5 7.5"/>
<rect x="132.3" y="124" width="1249.1" height="9" fill="#f4b56f"/>
<rect x="267.0" y="124" width="11.0" height="9" fill="#f4676e"/>
<rect x="601.0" y="124" width="10.0" height="9" fill="#f4676e"/>
<rect x="999.4" y="124" width="21.1" height="9" fill="#f4676e"/>
<rect x="1031.7" y="124" width="10.3" height="9" fill="#f4676e"/>
<rect x="1247.0" y="124" width="10.6" height="9" fill="#f4676e"/>
<path d="M482.1 94.2C479 93.7 475.6 94.1 473.6 95.5C472.4 96.400 471.5 97.600 470.900 98.600L466.200 99L463.900 103.600L467.700 103.900L467.800 106.500L470.200 108.900L472 107.700L472.200 112.100L477.400 109.400L477.800 105.700C480.100 103.900 481.700 101.900 482 100C482.400 98 482.400 96 482.100 94.200ZM477.450 97.100a1.600 1.600 0 1 0 0.010 0Z" fill="#395473" fill-rule="evenodd" stroke="#395473" stroke-width="0.4" stroke-linejoin="round"/>
<text x="97" y="153.8" text-anchor="end" font-size="17.4" fill="#4f4f4f" letter-spacing="0.2">40 s</text>
<text x="97" y="256.0" text-anchor="end" font-size="17.4" fill="#4f4f4f" letter-spacing="0.2">20 s</text>
<text x="97" y="358.2" text-anchor="end" font-size="17.4" fill="#4f4f4f" letter-spacing="0.2">0 ms</text>
<text transform="translate(232.9,401.3) rotate(-15)" text-anchor="middle" font-size="16.4" fill="#3e5773">06:00</text>
<text transform="translate(394.9,401.3) rotate(-15)" text-anchor="middle" font-size="16.4" fill="#3e5773">09:00</text>
<text transform="translate(556.9,401.3) rotate(-15)" text-anchor="middle" font-size="16.4" fill="#3e5773">12:00</text>
<text transform="translate(717.9,401.3) rotate(-15)" text-anchor="middle" font-size="16.4" fill="#3e5773">15:00</text>
<text transform="translate(879.8,401.3) rotate(-15)" text-anchor="middle" font-size="16.4" fill="#3e5773">18:00</text>
<text transform="translate(1041.7,401.3) rotate(-15)" text-anchor="middle" font-size="16.4" fill="#3e5773">21:00</text>
<text transform="translate(1202.1,402) rotate(-15)" text-anchor="middle" font-size="17.8" fill="#111" stroke="#111" stroke-width="0.3">27 août</text>
<text transform="translate(1364.5,401.3) rotate(-15)" text-anchor="middle" font-size="16.4" fill="#3e5773">03:00</text>
</svg>
<div class="row" style="top:467.0px;color:#2ecc71"><span class="sw" style="background:#4ed486;border-color:#2ecc71"></span><span class="nm">Accueil</span><span class="k" style="left:570px">min</span><span class="v" style="left:610px">3,22 s</span><span class="k" style="left:802px">moyenne</span><span class="v" style="left:887px">3,9 s</span><span class="k" style="left:1033px">max</span><span class="v" style="left:1078px">5,33 s</span></div>
<div class="row" style="top:504.0px;color:#9b59b6"><span class="sw" style="background:#a86fc0;border-color:#9b59b6"></span><span class="nm">Accueil prod</span><span class="k" style="left:570px">min</span><span class="v" style="left:610px">3,47 s</span><span class="k" style="left:802px">moyenne</span><span class="v" style="left:887px">5,55 s</span><span class="k" style="left:1033px">max</span><span class="v" style="left:1078px">8,29 s</span></div>
<div class="row" style="top:542.0px;color:#f39320"><span class="sw" style="background:#ffa347;border-color:#f39320"></span><span class="nm">Securité</span><span class="k" style="left:570px">min</span><span class="v" style="left:610px">3,3 s</span><span class="k" style="left:802px">moyenne</span><span class="v" style="left:887px">4,85 s</span><span class="k" style="left:1033px">max</span><span class="v" style="left:1078px">8,74 s</span></div>
<div class="row" style="top:579.0px;color:#c0392b"><span class="sw" style="background:#c95046;border-color:#c0392b"></span><span class="nm">Météo</span><span class="k" style="left:570px">min</span><span class="v" style="left:610px">2,4 s</span><span class="k" style="left:802px">moyenne</span><span class="v" style="left:887px">3,94 s</span><span class="k" style="left:1033px">max</span><span class="v" style="left:1078px">8,32 s</span></div>
<div class="row" style="top:617.0px;color:#27ae60"><span class="sw" style="background:#47ba78;border-color:#27ae60"></span><span class="nm">Energie</span><span class="k" style="left:570px">min</span><span class="v" style="left:610px">2,45 s</span><span class="k" style="left:802px">moyenne</span><span class="v" style="left:887px">3,4 s</span><span class="k" style="left:1033px">max</span><span class="v" style="left:1078px">6,81 s</span></div>
</body></html>
